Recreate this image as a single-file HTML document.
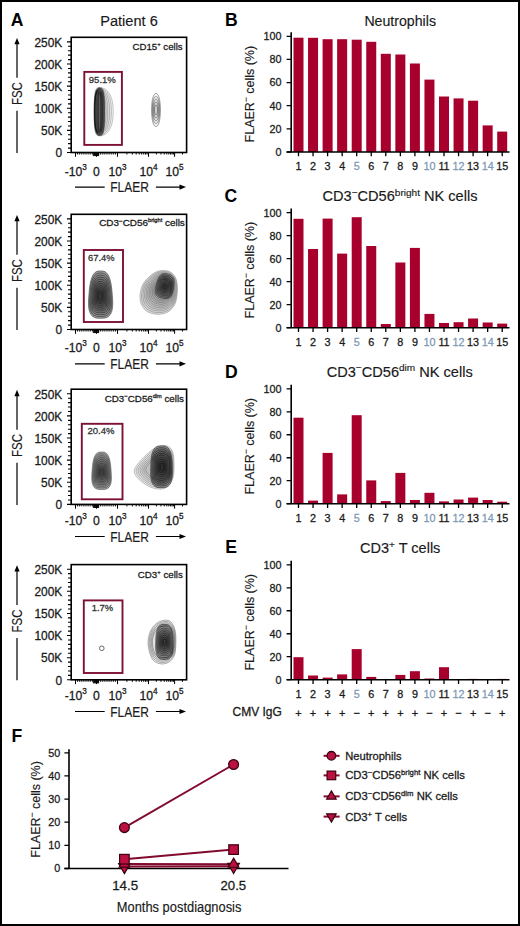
<!DOCTYPE html>
<html><head><meta charset="utf-8"><style>
html,body{margin:0;padding:0;background:#fff;}
svg{display:block;font-family:"Liberation Sans", sans-serif;}
</style></head><body>
<svg width="520" height="926" viewBox="0 0 520 926">
<rect width="520" height="926" fill="#fff"/>
<rect x="1" y="1" width="518" height="924" fill="none" stroke="#000" stroke-width="2"/>
<text x="10.8" y="26.1" font-size="17.6" text-anchor="start" fill="#000" font-weight="bold" >A</text>
<text x="224.9" y="26.1" font-size="17.6" text-anchor="start" fill="#000" font-weight="bold" >B</text>
<text x="224.6" y="202.2" font-size="17.6" text-anchor="start" fill="#000" font-weight="bold" >C</text>
<text x="224.9" y="378.4" font-size="17.6" text-anchor="start" fill="#000" font-weight="bold" >D</text>
<text x="225.2" y="553.1" font-size="17.6" text-anchor="start" fill="#000" font-weight="bold" >E</text>
<text x="11.5" y="742.0" font-size="17.6" text-anchor="start" fill="#000" font-weight="bold" >F</text>
<text x="129" y="25.8" font-size="13.8" text-anchor="middle" fill="#1a1a1a" font-weight="normal" stroke="#1a1a1a" stroke-width="0.15" textLength="57.5" lengthAdjust="spacingAndGlyphs" >Patient 6</text>
<rect x="71.2" y="37.3" width="115.39999999999999" height="115.2" fill="none" stroke="#000" stroke-width="1.6"/>
<path d="M67.0,41.90H71.2 M68.0,46.32H71.2 M68.0,50.75H71.2 M68.0,55.17H71.2 M68.0,59.60H71.2 M67.0,64.02H71.2 M68.0,68.44H71.2 M68.0,72.87H71.2 M68.0,77.29H71.2 M68.0,81.72H71.2 M67.0,86.14H71.2 M68.0,90.56H71.2 M68.0,94.99H71.2 M68.0,99.41H71.2 M68.0,103.84H71.2 M67.0,108.26H71.2 M68.0,112.68H71.2 M68.0,117.11H71.2 M68.0,121.53H71.2 M68.0,125.96H71.2 M67.0,130.38H71.2 M68.0,134.80H71.2 M68.0,139.23H71.2 M68.0,143.65H71.2 M68.0,148.08H71.2 M67.0,152.50H71.2" stroke="#000" stroke-width="1.1"/>
<text x="62.2" y="46.6" font-size="11.9" text-anchor="end" fill="#1a1a1a" font-weight="normal" stroke="#1a1a1a" stroke-width="0.28" >250K</text>
<text x="62.2" y="68.72" font-size="11.9" text-anchor="end" fill="#1a1a1a" font-weight="normal" stroke="#1a1a1a" stroke-width="0.28" >200K</text>
<text x="62.2" y="90.84" font-size="11.9" text-anchor="end" fill="#1a1a1a" font-weight="normal" stroke="#1a1a1a" stroke-width="0.28" >150K</text>
<text x="62.2" y="112.96" font-size="11.9" text-anchor="end" fill="#1a1a1a" font-weight="normal" stroke="#1a1a1a" stroke-width="0.28" >100K</text>
<text x="62.2" y="135.08" font-size="11.9" text-anchor="end" fill="#1a1a1a" font-weight="normal" stroke="#1a1a1a" stroke-width="0.28" >50K</text>
<text x="62.2" y="157.2" font-size="11.9" text-anchor="end" fill="#1a1a1a" font-weight="normal" stroke="#1a1a1a" stroke-width="0.28" >0</text>
<path d="M75.50,152.5V156.8 M96.50,152.5V156.8 M117.50,152.5V156.8 M148.50,152.5V156.8 M174.60,152.5V156.8 M93.35,152.5V156.1 M94.40,152.5V156.1 M95.45,152.5V156.1 M97.55,152.5V156.1 M98.60,152.5V156.1 M77.60,152.5V154.5 M79.70,152.5V154.5 M81.80,152.5V154.5 M83.90,152.5V154.5 M86.00,152.5V154.5 M88.10,152.5V154.5 M90.20,152.5V154.5 M92.30,152.5V154.5 M94.40,152.5V154.5 M98.60,152.5V154.5 M100.70,152.5V154.5 M102.80,152.5V154.5 M104.90,152.5V154.5 M107.00,152.5V154.5 M109.10,152.5V154.5 M111.20,152.5V154.5 M113.30,152.5V154.5 M115.40,152.5V154.5 M126.90,152.5V154.5 M156.36,152.5V154.5 M132.34,152.5V154.5 M160.95,152.5V154.5 M136.20,152.5V154.5 M164.21,152.5V154.5 M139.20,152.5V154.5 M166.74,152.5V154.5 M141.64,152.5V154.5 M168.81,152.5V154.5 M143.71,152.5V154.5 M170.56,152.5V154.5 M145.51,152.5V154.5 M172.07,152.5V154.5 M147.09,152.5V154.5 M173.41,152.5V154.5 M182.46,152.5V154.5" stroke="#000" stroke-width="1"/>
<text x="75.8" y="175.5" font-size="12.2" text-anchor="middle" fill="#1a1a1a" stroke="#1a1a1a" stroke-width="0.28">-10<tspan font-size="8.2" dy="-6">3</tspan></text>
<text x="96.5" y="175.5" font-size="12.2" text-anchor="middle" fill="#1a1a1a" font-weight="normal" stroke="#1a1a1a" stroke-width="0.28" >0</text>
<text x="117.6" y="175.5" font-size="12.2" text-anchor="middle" fill="#1a1a1a" stroke="#1a1a1a" stroke-width="0.28">10<tspan font-size="8.2" dy="-6">3</tspan></text>
<text x="148.5" y="175.5" font-size="12.2" text-anchor="middle" fill="#1a1a1a" stroke="#1a1a1a" stroke-width="0.28">10<tspan font-size="8.2" dy="-6">4</tspan></text>
<text x="174.6" y="175.5" font-size="12.2" text-anchor="middle" fill="#1a1a1a" stroke="#1a1a1a" stroke-width="0.28">10<tspan font-size="8.2" dy="-6">5</tspan></text>
<text x="129.6" y="192.1" font-size="14.8" text-anchor="middle" fill="#1a1a1a" font-weight="normal" stroke="#1a1a1a" stroke-width="0.15" textLength="38.6" lengthAdjust="spacingAndGlyphs" >FLAER</text>
<path d="M75,187.1H104.7 M155.9,187.1H181" stroke="#000" stroke-width="1.2"/>
<path d="M186,187.1 L179.5,184.5 L179.5,189.7 Z" fill="#000"/>
<path d="M17,41.3V77.8 M17,110.8V153.0" stroke="#000" stroke-width="1.2"/>
<path d="M17,37.9 L14.4,44.3 L19.6,44.3 Z" fill="#000"/>
<text transform="translate(21.8,93.6) rotate(-90)" x="0" y="0" font-size="14.8" text-anchor="middle" fill="#1a1a1a" stroke="#1a1a1a" stroke-width="0.15" textLength="23" lengthAdjust="spacingAndGlyphs">FSC</text>
<rect x="71.2" y="214.3" width="115.39999999999999" height="115.19999999999999" fill="none" stroke="#000" stroke-width="1.6"/>
<path d="M67.0,218.90H71.2 M68.0,223.32H71.2 M68.0,227.75H71.2 M68.0,232.17H71.2 M68.0,236.60H71.2 M67.0,241.02H71.2 M68.0,245.44H71.2 M68.0,249.87H71.2 M68.0,254.29H71.2 M68.0,258.72H71.2 M67.0,263.14H71.2 M68.0,267.56H71.2 M68.0,271.99H71.2 M68.0,276.41H71.2 M68.0,280.84H71.2 M67.0,285.26H71.2 M68.0,289.68H71.2 M68.0,294.11H71.2 M68.0,298.53H71.2 M68.0,302.96H71.2 M67.0,307.38H71.2 M68.0,311.80H71.2 M68.0,316.23H71.2 M68.0,320.65H71.2 M68.0,325.08H71.2 M67.0,329.50H71.2" stroke="#000" stroke-width="1.1"/>
<text x="62.2" y="223.6" font-size="11.9" text-anchor="end" fill="#1a1a1a" font-weight="normal" stroke="#1a1a1a" stroke-width="0.28" >250K</text>
<text x="62.2" y="245.72" font-size="11.9" text-anchor="end" fill="#1a1a1a" font-weight="normal" stroke="#1a1a1a" stroke-width="0.28" >200K</text>
<text x="62.2" y="267.84" font-size="11.9" text-anchor="end" fill="#1a1a1a" font-weight="normal" stroke="#1a1a1a" stroke-width="0.28" >150K</text>
<text x="62.2" y="289.96" font-size="11.9" text-anchor="end" fill="#1a1a1a" font-weight="normal" stroke="#1a1a1a" stroke-width="0.28" >100K</text>
<text x="62.2" y="312.08" font-size="11.9" text-anchor="end" fill="#1a1a1a" font-weight="normal" stroke="#1a1a1a" stroke-width="0.28" >50K</text>
<text x="62.2" y="334.2" font-size="11.9" text-anchor="end" fill="#1a1a1a" font-weight="normal" stroke="#1a1a1a" stroke-width="0.28" >0</text>
<path d="M75.50,329.5V333.8 M96.50,329.5V333.8 M117.50,329.5V333.8 M148.50,329.5V333.8 M174.60,329.5V333.8 M93.35,329.5V333.1 M94.40,329.5V333.1 M95.45,329.5V333.1 M97.55,329.5V333.1 M98.60,329.5V333.1 M77.60,329.5V331.5 M79.70,329.5V331.5 M81.80,329.5V331.5 M83.90,329.5V331.5 M86.00,329.5V331.5 M88.10,329.5V331.5 M90.20,329.5V331.5 M92.30,329.5V331.5 M94.40,329.5V331.5 M98.60,329.5V331.5 M100.70,329.5V331.5 M102.80,329.5V331.5 M104.90,329.5V331.5 M107.00,329.5V331.5 M109.10,329.5V331.5 M111.20,329.5V331.5 M113.30,329.5V331.5 M115.40,329.5V331.5 M126.90,329.5V331.5 M156.36,329.5V331.5 M132.34,329.5V331.5 M160.95,329.5V331.5 M136.20,329.5V331.5 M164.21,329.5V331.5 M139.20,329.5V331.5 M166.74,329.5V331.5 M141.64,329.5V331.5 M168.81,329.5V331.5 M143.71,329.5V331.5 M170.56,329.5V331.5 M145.51,329.5V331.5 M172.07,329.5V331.5 M147.09,329.5V331.5 M173.41,329.5V331.5 M182.46,329.5V331.5" stroke="#000" stroke-width="1"/>
<text x="75.8" y="351.5" font-size="12.2" text-anchor="middle" fill="#1a1a1a" stroke="#1a1a1a" stroke-width="0.28">-10<tspan font-size="8.2" dy="-6">3</tspan></text>
<text x="96.5" y="351.5" font-size="12.2" text-anchor="middle" fill="#1a1a1a" font-weight="normal" stroke="#1a1a1a" stroke-width="0.28" >0</text>
<text x="117.6" y="351.5" font-size="12.2" text-anchor="middle" fill="#1a1a1a" stroke="#1a1a1a" stroke-width="0.28">10<tspan font-size="8.2" dy="-6">3</tspan></text>
<text x="148.5" y="351.5" font-size="12.2" text-anchor="middle" fill="#1a1a1a" stroke="#1a1a1a" stroke-width="0.28">10<tspan font-size="8.2" dy="-6">4</tspan></text>
<text x="174.6" y="351.5" font-size="12.2" text-anchor="middle" fill="#1a1a1a" stroke="#1a1a1a" stroke-width="0.28">10<tspan font-size="8.2" dy="-6">5</tspan></text>
<text x="129.6" y="368.5" font-size="14.8" text-anchor="middle" fill="#1a1a1a" font-weight="normal" stroke="#1a1a1a" stroke-width="0.15" textLength="38.6" lengthAdjust="spacingAndGlyphs" >FLAER</text>
<path d="M75,363.8H104.7 M155.9,363.8H181" stroke="#000" stroke-width="1.2"/>
<path d="M186,363.8 L179.5,361.2 L179.5,366.4 Z" fill="#000"/>
<path d="M17,218.3V254.8 M17,287.8V330.0" stroke="#000" stroke-width="1.2"/>
<path d="M17,214.9 L14.4,221.3 L19.6,221.3 Z" fill="#000"/>
<text transform="translate(21.8,270.6) rotate(-90)" x="0" y="0" font-size="14.8" text-anchor="middle" fill="#1a1a1a" stroke="#1a1a1a" stroke-width="0.15" textLength="23" lengthAdjust="spacingAndGlyphs">FSC</text>
<rect x="71.2" y="389.2" width="115.39999999999999" height="115.19999999999999" fill="none" stroke="#000" stroke-width="1.6"/>
<path d="M67.0,393.80H71.2 M68.0,398.22H71.2 M68.0,402.65H71.2 M68.0,407.07H71.2 M68.0,411.50H71.2 M67.0,415.92H71.2 M68.0,420.34H71.2 M68.0,424.77H71.2 M68.0,429.19H71.2 M68.0,433.62H71.2 M67.0,438.04H71.2 M68.0,442.46H71.2 M68.0,446.89H71.2 M68.0,451.31H71.2 M68.0,455.74H71.2 M67.0,460.16H71.2 M68.0,464.58H71.2 M68.0,469.01H71.2 M68.0,473.43H71.2 M68.0,477.86H71.2 M67.0,482.28H71.2 M68.0,486.70H71.2 M68.0,491.13H71.2 M68.0,495.55H71.2 M68.0,499.98H71.2 M67.0,504.40H71.2" stroke="#000" stroke-width="1.1"/>
<text x="62.2" y="398.5" font-size="11.9" text-anchor="end" fill="#1a1a1a" font-weight="normal" stroke="#1a1a1a" stroke-width="0.28" >250K</text>
<text x="62.2" y="420.62" font-size="11.9" text-anchor="end" fill="#1a1a1a" font-weight="normal" stroke="#1a1a1a" stroke-width="0.28" >200K</text>
<text x="62.2" y="442.74" font-size="11.9" text-anchor="end" fill="#1a1a1a" font-weight="normal" stroke="#1a1a1a" stroke-width="0.28" >150K</text>
<text x="62.2" y="464.86" font-size="11.9" text-anchor="end" fill="#1a1a1a" font-weight="normal" stroke="#1a1a1a" stroke-width="0.28" >100K</text>
<text x="62.2" y="486.98" font-size="11.9" text-anchor="end" fill="#1a1a1a" font-weight="normal" stroke="#1a1a1a" stroke-width="0.28" >50K</text>
<text x="62.2" y="509.1" font-size="11.9" text-anchor="end" fill="#1a1a1a" font-weight="normal" stroke="#1a1a1a" stroke-width="0.28" >0</text>
<path d="M75.50,504.4V508.7 M96.50,504.4V508.7 M117.50,504.4V508.7 M148.50,504.4V508.7 M174.60,504.4V508.7 M93.35,504.4V508.0 M94.40,504.4V508.0 M95.45,504.4V508.0 M97.55,504.4V508.0 M98.60,504.4V508.0 M77.60,504.4V506.4 M79.70,504.4V506.4 M81.80,504.4V506.4 M83.90,504.4V506.4 M86.00,504.4V506.4 M88.10,504.4V506.4 M90.20,504.4V506.4 M92.30,504.4V506.4 M94.40,504.4V506.4 M98.60,504.4V506.4 M100.70,504.4V506.4 M102.80,504.4V506.4 M104.90,504.4V506.4 M107.00,504.4V506.4 M109.10,504.4V506.4 M111.20,504.4V506.4 M113.30,504.4V506.4 M115.40,504.4V506.4 M126.90,504.4V506.4 M156.36,504.4V506.4 M132.34,504.4V506.4 M160.95,504.4V506.4 M136.20,504.4V506.4 M164.21,504.4V506.4 M139.20,504.4V506.4 M166.74,504.4V506.4 M141.64,504.4V506.4 M168.81,504.4V506.4 M143.71,504.4V506.4 M170.56,504.4V506.4 M145.51,504.4V506.4 M172.07,504.4V506.4 M147.09,504.4V506.4 M173.41,504.4V506.4 M182.46,504.4V506.4" stroke="#000" stroke-width="1"/>
<text x="75.8" y="525.4" font-size="12.2" text-anchor="middle" fill="#1a1a1a" stroke="#1a1a1a" stroke-width="0.28">-10<tspan font-size="8.2" dy="-6">3</tspan></text>
<text x="96.5" y="525.4" font-size="12.2" text-anchor="middle" fill="#1a1a1a" font-weight="normal" stroke="#1a1a1a" stroke-width="0.28" >0</text>
<text x="117.6" y="525.4" font-size="12.2" text-anchor="middle" fill="#1a1a1a" stroke="#1a1a1a" stroke-width="0.28">10<tspan font-size="8.2" dy="-6">3</tspan></text>
<text x="148.5" y="525.4" font-size="12.2" text-anchor="middle" fill="#1a1a1a" stroke="#1a1a1a" stroke-width="0.28">10<tspan font-size="8.2" dy="-6">4</tspan></text>
<text x="174.6" y="525.4" font-size="12.2" text-anchor="middle" fill="#1a1a1a" stroke="#1a1a1a" stroke-width="0.28">10<tspan font-size="8.2" dy="-6">5</tspan></text>
<text x="129.6" y="541.7" font-size="14.8" text-anchor="middle" fill="#1a1a1a" font-weight="normal" stroke="#1a1a1a" stroke-width="0.15" textLength="38.6" lengthAdjust="spacingAndGlyphs" >FLAER</text>
<path d="M75,536.5H104.7 M155.9,536.5H181" stroke="#000" stroke-width="1.2"/>
<path d="M186,536.5 L179.5,533.9 L179.5,539.1 Z" fill="#000"/>
<path d="M17,393.2V429.7 M17,462.7V504.9" stroke="#000" stroke-width="1.2"/>
<path d="M17,389.8 L14.4,396.2 L19.6,396.2 Z" fill="#000"/>
<text transform="translate(21.8,445.5) rotate(-90)" x="0" y="0" font-size="14.8" text-anchor="middle" fill="#1a1a1a" stroke="#1a1a1a" stroke-width="0.15" textLength="23" lengthAdjust="spacingAndGlyphs">FSC</text>
<rect x="71.2" y="564.6" width="115.39999999999999" height="115.20000000000005" fill="none" stroke="#000" stroke-width="1.6"/>
<path d="M67.0,569.20H71.2 M68.0,573.62H71.2 M68.0,578.05H71.2 M68.0,582.47H71.2 M68.0,586.90H71.2 M67.0,591.32H71.2 M68.0,595.74H71.2 M68.0,600.17H71.2 M68.0,604.59H71.2 M68.0,609.02H71.2 M67.0,613.44H71.2 M68.0,617.86H71.2 M68.0,622.29H71.2 M68.0,626.71H71.2 M68.0,631.14H71.2 M67.0,635.56H71.2 M68.0,639.98H71.2 M68.0,644.41H71.2 M68.0,648.83H71.2 M68.0,653.26H71.2 M67.0,657.68H71.2 M68.0,662.10H71.2 M68.0,666.53H71.2 M68.0,670.95H71.2 M68.0,675.38H71.2 M67.0,679.80H71.2" stroke="#000" stroke-width="1.1"/>
<text x="62.2" y="573.9" font-size="11.9" text-anchor="end" fill="#1a1a1a" font-weight="normal" stroke="#1a1a1a" stroke-width="0.28" >250K</text>
<text x="62.2" y="596.02" font-size="11.9" text-anchor="end" fill="#1a1a1a" font-weight="normal" stroke="#1a1a1a" stroke-width="0.28" >200K</text>
<text x="62.2" y="618.14" font-size="11.9" text-anchor="end" fill="#1a1a1a" font-weight="normal" stroke="#1a1a1a" stroke-width="0.28" >150K</text>
<text x="62.2" y="640.26" font-size="11.9" text-anchor="end" fill="#1a1a1a" font-weight="normal" stroke="#1a1a1a" stroke-width="0.28" >100K</text>
<text x="62.2" y="662.38" font-size="11.9" text-anchor="end" fill="#1a1a1a" font-weight="normal" stroke="#1a1a1a" stroke-width="0.28" >50K</text>
<text x="62.2" y="684.5" font-size="11.9" text-anchor="end" fill="#1a1a1a" font-weight="normal" stroke="#1a1a1a" stroke-width="0.28" >0</text>
<path d="M75.50,679.8000000000001V684.1 M96.50,679.8000000000001V684.1 M117.50,679.8000000000001V684.1 M148.50,679.8000000000001V684.1 M174.60,679.8000000000001V684.1 M93.35,679.8000000000001V683.4 M94.40,679.8000000000001V683.4 M95.45,679.8000000000001V683.4 M97.55,679.8000000000001V683.4 M98.60,679.8000000000001V683.4 M77.60,679.8000000000001V681.8 M79.70,679.8000000000001V681.8 M81.80,679.8000000000001V681.8 M83.90,679.8000000000001V681.8 M86.00,679.8000000000001V681.8 M88.10,679.8000000000001V681.8 M90.20,679.8000000000001V681.8 M92.30,679.8000000000001V681.8 M94.40,679.8000000000001V681.8 M98.60,679.8000000000001V681.8 M100.70,679.8000000000001V681.8 M102.80,679.8000000000001V681.8 M104.90,679.8000000000001V681.8 M107.00,679.8000000000001V681.8 M109.10,679.8000000000001V681.8 M111.20,679.8000000000001V681.8 M113.30,679.8000000000001V681.8 M115.40,679.8000000000001V681.8 M126.90,679.8000000000001V681.8 M156.36,679.8000000000001V681.8 M132.34,679.8000000000001V681.8 M160.95,679.8000000000001V681.8 M136.20,679.8000000000001V681.8 M164.21,679.8000000000001V681.8 M139.20,679.8000000000001V681.8 M166.74,679.8000000000001V681.8 M141.64,679.8000000000001V681.8 M168.81,679.8000000000001V681.8 M143.71,679.8000000000001V681.8 M170.56,679.8000000000001V681.8 M145.51,679.8000000000001V681.8 M172.07,679.8000000000001V681.8 M147.09,679.8000000000001V681.8 M173.41,679.8000000000001V681.8 M182.46,679.8000000000001V681.8" stroke="#000" stroke-width="1"/>
<text x="75.8" y="700.4" font-size="12.2" text-anchor="middle" fill="#1a1a1a" stroke="#1a1a1a" stroke-width="0.28">-10<tspan font-size="8.2" dy="-6">3</tspan></text>
<text x="96.5" y="700.4" font-size="12.2" text-anchor="middle" fill="#1a1a1a" font-weight="normal" stroke="#1a1a1a" stroke-width="0.28" >0</text>
<text x="117.6" y="700.4" font-size="12.2" text-anchor="middle" fill="#1a1a1a" stroke="#1a1a1a" stroke-width="0.28">10<tspan font-size="8.2" dy="-6">3</tspan></text>
<text x="148.5" y="700.4" font-size="12.2" text-anchor="middle" fill="#1a1a1a" stroke="#1a1a1a" stroke-width="0.28">10<tspan font-size="8.2" dy="-6">4</tspan></text>
<text x="174.6" y="700.4" font-size="12.2" text-anchor="middle" fill="#1a1a1a" stroke="#1a1a1a" stroke-width="0.28">10<tspan font-size="8.2" dy="-6">5</tspan></text>
<text x="129.6" y="716.5" font-size="14.8" text-anchor="middle" fill="#1a1a1a" font-weight="normal" stroke="#1a1a1a" stroke-width="0.15" textLength="38.6" lengthAdjust="spacingAndGlyphs" >FLAER</text>
<path d="M75,711.5H104.7 M155.9,711.5H181" stroke="#000" stroke-width="1.2"/>
<path d="M186,711.5 L179.5,708.9 L179.5,714.1 Z" fill="#000"/>
<path d="M17,568.6V605.1 M17,638.1V680.3000000000001" stroke="#000" stroke-width="1.2"/>
<path d="M17,565.2 L14.4,571.6 L19.6,571.6 Z" fill="#000"/>
<text transform="translate(21.8,620.9) rotate(-90)" x="0" y="0" font-size="14.8" text-anchor="middle" fill="#1a1a1a" stroke="#1a1a1a" stroke-width="0.15" textLength="23" lengthAdjust="spacingAndGlyphs">FSC</text>
<text x="182.6" y="49.7" font-size="9.8" text-anchor="end" fill="#1a1a1a" stroke="#1a1a1a" stroke-width="0.28" textLength="50" lengthAdjust="spacingAndGlyphs">CD15<tspan font-size="6" dy="-3.5">+</tspan><tspan dy="3.5"> cells</tspan></text>
<rect x="84.3" y="71.9" width="37.6" height="73" fill="none" stroke="#7d1035" stroke-width="1.9"/>
<text x="102.3" y="83.2" font-size="9.4" text-anchor="middle" fill="#333" font-weight="normal" stroke="#333" stroke-width="0.28" textLength="27" lengthAdjust="spacingAndGlyphs" >95.1%</text>
<g>
<path d="M113.20,111.70 L113.13,115.28 L112.90,118.20 L112.53,120.86 L112.02,123.31 L111.37,125.56 L110.58,127.61 L109.66,129.46 L108.62,131.08 L107.46,132.47 L106.18,133.62 L104.79,134.52 L103.28,135.18 L101.63,135.57 L99.60,135.70 L98.80,135.57 L98.14,135.18 L97.54,134.52 L96.99,133.62 L96.48,132.47 L96.02,131.08 L95.61,129.46 L95.24,127.61 L94.93,125.56 L94.67,123.31 L94.46,120.86 L94.32,118.20 L94.23,115.28 L94.20,111.70 L94.23,108.12 L94.32,105.20 L94.46,102.54 L94.67,100.09 L94.93,97.84 L95.24,95.79 L95.61,93.94 L96.02,92.32 L96.48,90.93 L96.99,89.78 L97.54,88.88 L98.14,88.22 L98.80,87.83 L99.60,87.70 L101.63,87.83 L103.28,88.22 L104.79,88.88 L106.18,89.78 L107.46,90.93 L108.62,92.32 L109.66,93.94 L110.58,95.79 L111.37,97.84 L112.02,100.09 L112.53,102.54 L112.90,105.20 L113.13,108.12 Z" fill="#000" fill-opacity="0.040" stroke="#000" stroke-opacity="0.45" stroke-width="0.5"/>
<path d="M111.42,111.70 L111.35,115.18 L111.15,118.02 L110.82,120.60 L110.36,122.99 L109.78,125.18 L109.07,127.17 L108.25,128.96 L107.32,130.54 L106.28,131.89 L105.14,133.01 L103.89,133.89 L102.54,134.52 L101.06,134.91 L99.25,135.03 L98.52,134.91 L97.92,134.52 L97.37,133.89 L96.87,133.01 L96.41,131.89 L95.99,130.54 L95.61,128.96 L95.28,127.17 L95.00,125.18 L94.76,122.99 L94.57,120.60 L94.44,118.02 L94.36,115.18 L94.33,111.70 L94.36,108.22 L94.44,105.38 L94.57,102.80 L94.76,100.41 L95.00,98.22 L95.28,96.23 L95.61,94.44 L95.99,92.86 L96.41,91.51 L96.87,90.39 L97.37,89.51 L97.92,88.88 L98.52,88.49 L99.25,88.37 L101.06,88.49 L102.54,88.88 L103.89,89.51 L105.14,90.39 L106.28,91.51 L107.32,92.86 L108.25,94.44 L109.07,96.23 L109.78,98.22 L110.36,100.41 L110.82,102.80 L111.15,105.38 L111.35,108.22 Z" fill="#000" fill-opacity="0.040" stroke="#000" stroke-opacity="0.45" stroke-width="0.5"/>
<path d="M109.63,111.70 L109.57,115.08 L109.40,117.84 L109.11,120.35 L108.70,122.67 L108.19,124.79 L107.57,126.73 L106.84,128.47 L106.02,130.00 L105.10,131.31 L104.09,132.40 L103.00,133.26 L101.81,133.87 L100.50,134.24 L98.90,134.37 L98.24,134.24 L97.70,133.87 L97.21,133.26 L96.76,132.40 L96.34,131.31 L95.96,130.00 L95.62,128.47 L95.32,126.73 L95.06,124.79 L94.85,122.67 L94.68,120.35 L94.56,117.84 L94.49,115.08 L94.47,111.70 L94.49,108.32 L94.56,105.56 L94.68,103.05 L94.85,100.73 L95.06,98.61 L95.32,96.67 L95.62,94.93 L95.96,93.40 L96.34,92.09 L96.76,91.00 L97.21,90.14 L97.70,89.53 L98.24,89.16 L98.90,89.03 L100.50,89.16 L101.81,89.53 L103.00,90.14 L104.09,91.00 L105.10,92.09 L106.02,93.40 L106.84,94.93 L107.57,96.67 L108.19,98.61 L108.70,100.73 L109.11,103.05 L109.40,105.56 L109.57,108.32 Z" fill="#000" fill-opacity="0.040" stroke="#000" stroke-opacity="0.45" stroke-width="0.5"/>
<path d="M107.85,111.70 L107.80,114.98 L107.65,117.66 L107.39,120.10 L107.04,122.34 L106.60,124.41 L106.06,126.29 L105.43,127.98 L104.72,129.46 L103.92,130.74 L103.05,131.79 L102.10,132.62 L101.07,133.22 L99.94,133.58 L98.55,133.70 L97.96,133.58 L97.48,133.22 L97.04,132.62 L96.64,131.79 L96.27,130.74 L95.93,129.46 L95.63,127.98 L95.36,126.29 L95.13,124.41 L94.94,122.34 L94.79,120.10 L94.69,117.66 L94.62,114.98 L94.60,111.70 L94.62,108.42 L94.69,105.74 L94.79,103.30 L94.94,101.06 L95.13,98.99 L95.36,97.11 L95.63,95.42 L95.93,93.94 L96.27,92.66 L96.64,91.61 L97.04,90.78 L97.48,90.18 L97.96,89.82 L98.55,89.70 L99.94,89.82 L101.07,90.18 L102.10,90.78 L103.05,91.61 L103.92,92.66 L104.72,93.94 L105.43,95.42 L106.06,97.11 L106.60,98.99 L107.04,101.06 L107.39,103.30 L107.65,105.74 L107.80,108.42 Z" fill="#000" fill-opacity="0.040" stroke="#000" stroke-opacity="0.45" stroke-width="0.5"/>
<path d="M106.07,111.70 L106.02,114.88 L105.89,117.48 L105.68,119.84 L105.38,122.02 L105.01,124.02 L104.55,125.85 L104.02,127.48 L103.42,128.92 L102.74,130.16 L102.01,131.18 L101.20,131.99 L100.33,132.57 L99.37,132.92 L98.20,133.03 L97.68,132.92 L97.26,132.57 L96.88,131.99 L96.52,131.18 L96.20,130.16 L95.90,128.92 L95.64,127.48 L95.40,125.85 L95.20,124.02 L95.03,122.02 L94.90,119.84 L94.81,117.48 L94.75,114.88 L94.73,111.70 L94.75,108.52 L94.81,105.92 L94.90,103.56 L95.03,101.38 L95.20,99.38 L95.40,97.55 L95.64,95.92 L95.90,94.48 L96.20,93.24 L96.52,92.22 L96.88,91.41 L97.26,90.83 L97.68,90.48 L98.20,90.37 L99.37,90.48 L100.33,90.83 L101.20,91.41 L102.01,92.22 L102.74,93.24 L103.42,94.48 L104.02,95.92 L104.55,97.55 L105.01,99.38 L105.38,101.38 L105.68,103.56 L105.89,105.92 L106.02,108.52 Z" fill="#000" fill-opacity="0.040" stroke="#000" stroke-opacity="0.45" stroke-width="0.5"/>
<path d="M104.28,111.70 L104.25,114.78 L104.14,117.29 L103.97,119.59 L103.73,121.70 L103.42,123.64 L103.04,125.40 L102.61,126.99 L102.12,128.38 L101.57,129.58 L100.96,130.58 L100.31,131.35 L99.59,131.92 L98.81,132.25 L97.85,132.37 L97.41,132.25 L97.04,131.92 L96.71,131.35 L96.41,130.58 L96.13,129.58 L95.87,128.38 L95.64,126.99 L95.44,125.40 L95.27,123.64 L95.13,121.70 L95.01,119.59 L94.93,117.29 L94.88,114.78 L94.87,111.70 L94.88,108.62 L94.93,106.11 L95.01,103.81 L95.13,101.70 L95.27,99.76 L95.44,98.00 L95.64,96.41 L95.87,95.02 L96.13,93.82 L96.41,92.82 L96.71,92.05 L97.04,91.48 L97.41,91.15 L97.85,91.03 L98.81,91.15 L99.59,91.48 L100.31,92.05 L100.96,92.82 L101.57,93.82 L102.12,95.02 L102.61,96.41 L103.04,98.00 L103.42,99.76 L103.73,101.70 L103.97,103.81 L104.14,106.11 L104.25,108.62 Z" fill="#000" fill-opacity="0.040" stroke="#000" stroke-opacity="0.45" stroke-width="0.5"/>
<path d="M102.50,111.70 L102.47,114.68 L102.39,117.11 L102.26,119.33 L102.07,121.38 L101.83,123.25 L101.54,124.96 L101.20,126.50 L100.82,127.85 L100.39,129.01 L99.92,129.97 L99.41,130.72 L98.85,131.26 L98.24,131.59 L97.50,131.70 L97.13,131.59 L96.82,131.26 L96.55,130.72 L96.29,129.97 L96.06,129.01 L95.84,127.85 L95.65,126.50 L95.48,124.96 L95.34,123.25 L95.22,121.38 L95.12,119.33 L95.05,117.11 L95.01,114.68 L95.00,111.70 L95.01,108.72 L95.05,106.29 L95.12,104.07 L95.22,102.02 L95.34,100.15 L95.48,98.44 L95.65,96.90 L95.84,95.55 L96.06,94.39 L96.29,93.43 L96.55,92.68 L96.82,92.14 L97.13,91.81 L97.50,91.70 L98.24,91.81 L98.85,92.14 L99.41,92.68 L99.92,93.43 L100.39,94.39 L100.82,95.55 L101.20,96.90 L101.54,98.44 L101.83,100.15 L102.07,102.02 L102.26,104.07 L102.39,106.29 L102.47,108.72 Z" fill="#000" fill-opacity="0.040" stroke="#000" stroke-opacity="0.45" stroke-width="0.5"/>
</g>
<g>
<path d="M104.60,111.70 L104.58,117.81 L104.52,121.08 L104.42,123.71 L104.27,125.94 L104.09,127.88 L103.86,129.56 L103.59,131.03 L103.27,132.28 L102.91,133.33 L102.49,134.19 L102.00,134.85 L101.43,135.32 L100.72,135.61 L99.40,135.70 L98.08,135.61 L97.37,135.32 L96.80,134.85 L96.31,134.19 L95.89,133.33 L95.53,132.28 L95.21,131.03 L94.94,129.56 L94.71,127.88 L94.53,125.94 L94.38,123.71 L94.28,121.08 L94.22,117.81 L94.20,111.70 L94.22,105.59 L94.28,102.32 L94.38,99.69 L94.53,97.46 L94.71,95.52 L94.94,93.84 L95.21,92.37 L95.53,91.12 L95.89,90.07 L96.31,89.21 L96.80,88.55 L97.37,88.08 L98.08,87.79 L99.40,87.70 L100.72,87.79 L101.43,88.08 L102.00,88.55 L102.49,89.21 L102.91,90.07 L103.27,91.12 L103.59,92.37 L103.86,93.84 L104.09,95.52 L104.27,97.46 L104.42,99.69 L104.52,102.32 L104.58,105.59 Z" fill="#000" fill-opacity="0.170" stroke="#000" stroke-opacity="0.6" stroke-width="0.7"/>
<path d="M103.93,111.70 L103.92,117.60 L103.86,120.76 L103.77,123.29 L103.65,125.45 L103.49,127.32 L103.29,128.94 L103.06,130.35 L102.78,131.56 L102.47,132.58 L102.10,133.40 L101.69,134.05 L101.19,134.50 L100.58,134.78 L99.43,134.87 L98.29,134.78 L97.67,134.50 L97.18,134.05 L96.76,133.40 L96.40,132.58 L96.08,131.56 L95.81,130.35 L95.57,128.94 L95.38,127.32 L95.22,125.45 L95.09,123.29 L95.00,120.76 L94.95,117.60 L94.93,111.70 L94.95,105.80 L95.00,102.64 L95.09,100.11 L95.22,97.95 L95.38,96.08 L95.57,94.46 L95.81,93.05 L96.08,91.84 L96.40,90.82 L96.76,90.00 L97.18,89.35 L97.67,88.90 L98.29,88.62 L99.43,88.53 L100.58,88.62 L101.19,88.90 L101.69,89.35 L102.10,90.00 L102.47,90.82 L102.78,91.84 L103.06,93.05 L103.29,94.46 L103.49,96.08 L103.65,97.95 L103.77,100.11 L103.86,102.64 L103.92,105.80 Z" fill="#000" fill-opacity="0.070" stroke="#000" stroke-opacity="0.6" stroke-width="0.7"/>
<path d="M103.27,111.70 L103.25,117.38 L103.21,120.43 L103.13,122.88 L103.03,124.95 L102.89,126.75 L102.72,128.32 L102.53,129.68 L102.30,130.85 L102.03,131.83 L101.72,132.62 L101.37,133.24 L100.95,133.68 L100.43,133.95 L99.47,134.03 L98.50,133.95 L97.98,133.68 L97.57,133.24 L97.21,132.62 L96.91,131.83 L96.64,130.85 L96.41,129.68 L96.21,128.32 L96.04,126.75 L95.91,124.95 L95.80,122.88 L95.73,120.43 L95.68,117.38 L95.67,111.70 L95.68,106.02 L95.73,102.97 L95.80,100.52 L95.91,98.45 L96.04,96.65 L96.21,95.08 L96.41,93.72 L96.64,92.55 L96.91,91.57 L97.21,90.78 L97.57,90.16 L97.98,89.72 L98.50,89.45 L99.47,89.37 L100.43,89.45 L100.95,89.72 L101.37,90.16 L101.72,90.78 L102.03,91.57 L102.30,92.55 L102.53,93.72 L102.72,95.08 L102.89,96.65 L103.03,98.45 L103.13,100.52 L103.21,102.97 L103.25,106.02 Z" fill="#000" fill-opacity="0.070" stroke="#000" stroke-opacity="0.6" stroke-width="0.7"/>
<path d="M102.60,111.70 L102.59,117.17 L102.55,120.11 L102.49,122.46 L102.40,124.46 L102.29,126.19 L102.16,127.70 L102.00,129.01 L101.81,130.13 L101.59,131.08 L101.34,131.84 L101.05,132.44 L100.71,132.86 L100.29,133.12 L99.50,133.20 L98.71,133.12 L98.29,132.86 L97.95,132.44 L97.66,131.84 L97.41,131.08 L97.19,130.13 L97.00,129.01 L96.84,127.70 L96.71,126.19 L96.60,124.46 L96.51,122.46 L96.45,120.11 L96.41,117.17 L96.40,111.70 L96.41,106.23 L96.45,103.29 L96.51,100.94 L96.60,98.94 L96.71,97.21 L96.84,95.70 L97.00,94.39 L97.19,93.27 L97.41,92.32 L97.66,91.56 L97.95,90.96 L98.29,90.54 L98.71,90.28 L99.50,90.20 L100.29,90.28 L100.71,90.54 L101.05,90.96 L101.34,91.56 L101.59,92.32 L101.81,93.27 L102.00,94.39 L102.16,95.70 L102.29,97.21 L102.40,98.94 L102.49,100.94 L102.55,103.29 L102.59,106.23 Z" fill="#000" fill-opacity="0.070" stroke="#000" stroke-opacity="0.6" stroke-width="0.7"/>
<path d="M101.93,111.70 L101.92,116.96 L101.90,119.78 L101.85,122.04 L101.78,123.96 L101.70,125.63 L101.59,127.08 L101.47,128.34 L101.32,129.42 L101.15,130.33 L100.96,131.06 L100.73,131.63 L100.47,132.04 L100.14,132.29 L99.53,132.37 L98.92,132.29 L98.60,132.04 L98.33,131.63 L98.11,131.06 L97.92,130.33 L97.75,129.42 L97.60,128.34 L97.48,127.08 L97.37,125.63 L97.28,123.96 L97.22,122.04 L97.17,119.78 L97.14,116.96 L97.13,111.70 L97.14,106.44 L97.17,103.62 L97.22,101.36 L97.28,99.44 L97.37,97.77 L97.48,96.32 L97.60,95.06 L97.75,93.98 L97.92,93.07 L98.11,92.34 L98.33,91.77 L98.60,91.36 L98.92,91.11 L99.53,91.03 L100.14,91.11 L100.47,91.36 L100.73,91.77 L100.96,92.34 L101.15,93.07 L101.32,93.98 L101.47,95.06 L101.59,96.32 L101.70,97.77 L101.78,99.44 L101.85,101.36 L101.90,103.62 L101.92,106.44 Z" fill="#000" fill-opacity="0.070" stroke="#000" stroke-opacity="0.6" stroke-width="0.7"/>
<path d="M101.27,111.70 L101.26,116.75 L101.24,119.45 L101.21,121.62 L101.16,123.47 L101.10,125.07 L101.02,126.46 L100.94,127.67 L100.83,128.71 L100.71,129.57 L100.58,130.28 L100.42,130.83 L100.23,131.22 L100.00,131.46 L99.57,131.53 L99.13,131.46 L98.90,131.22 L98.72,130.83 L98.56,130.28 L98.42,129.57 L98.30,128.71 L98.20,127.67 L98.11,126.46 L98.03,125.07 L97.97,123.47 L97.93,121.62 L97.89,119.45 L97.87,116.75 L97.87,111.70 L97.87,106.65 L97.89,103.95 L97.93,101.78 L97.97,99.93 L98.03,98.33 L98.11,96.94 L98.20,95.73 L98.30,94.69 L98.42,93.83 L98.56,93.12 L98.72,92.57 L98.90,92.18 L99.13,91.94 L99.57,91.87 L100.00,91.94 L100.23,92.18 L100.42,92.57 L100.58,93.12 L100.71,93.83 L100.83,94.69 L100.94,95.73 L101.02,96.94 L101.10,98.33 L101.16,99.93 L101.21,101.78 L101.24,103.95 L101.26,106.65 Z" fill="#000" fill-opacity="0.070" stroke="#000" stroke-opacity="0.6" stroke-width="0.7"/>
<path d="M100.60,111.70 L100.60,116.54 L100.58,119.13 L100.56,121.21 L100.54,122.97 L100.50,124.51 L100.46,125.84 L100.41,127.00 L100.34,127.99 L100.27,128.82 L100.19,129.50 L100.10,130.03 L99.99,130.40 L99.85,130.63 L99.60,130.70 L99.35,130.63 L99.21,130.40 L99.10,130.03 L99.01,129.50 L98.93,128.82 L98.86,127.99 L98.79,127.00 L98.74,125.84 L98.70,124.51 L98.66,122.97 L98.64,121.21 L98.62,119.13 L98.60,116.54 L98.60,111.70 L98.60,106.86 L98.62,104.27 L98.64,102.19 L98.66,100.43 L98.70,98.89 L98.74,97.56 L98.79,96.40 L98.86,95.41 L98.93,94.58 L99.01,93.90 L99.10,93.37 L99.21,93.00 L99.35,92.77 L99.60,92.70 L99.85,92.77 L99.99,93.00 L100.10,93.37 L100.19,93.90 L100.27,94.58 L100.34,95.41 L100.41,96.40 L100.46,97.56 L100.50,98.89 L100.54,100.43 L100.56,102.19 L100.58,104.27 L100.60,106.86 Z" fill="#000" fill-opacity="0.070" stroke="#000" stroke-opacity="0.6" stroke-width="0.7"/>
</g>
<g>
<path d="M160.40,110.00 L160.37,112.25 L160.30,114.21 L160.17,116.03 L160.00,117.72 L159.78,119.30 L159.52,120.74 L159.21,122.04 L158.86,123.19 L158.48,124.18 L158.06,125.01 L157.61,125.66 L157.12,126.12 L156.60,126.41 L156.00,126.50 L155.40,126.41 L154.88,126.12 L154.39,125.66 L153.94,125.01 L153.52,124.18 L153.14,123.19 L152.79,122.04 L152.48,120.74 L152.22,119.30 L152.00,117.72 L151.83,116.03 L151.70,114.21 L151.63,112.25 L151.60,110.00 L151.63,107.75 L151.70,105.79 L151.83,103.97 L152.00,102.28 L152.22,100.70 L152.48,99.26 L152.79,97.96 L153.14,96.81 L153.52,95.82 L153.94,94.99 L154.39,94.34 L154.88,93.88 L155.40,93.59 L156.00,93.50 L156.60,93.59 L157.12,93.88 L157.61,94.34 L158.06,94.99 L158.48,95.82 L158.86,96.81 L159.21,97.96 L159.52,99.26 L159.78,100.70 L160.00,102.28 L160.17,103.97 L160.30,105.79 L160.37,107.75 Z" fill="#000" fill-opacity="0.040" stroke="#000" stroke-opacity="0.6" stroke-width="0.6"/>
<path d="M159.68,110.00 L159.65,111.86 L159.59,113.48 L159.49,114.98 L159.34,116.38 L159.16,117.68 L158.94,118.87 L158.68,119.94 L158.39,120.89 L158.07,121.71 L157.72,122.39 L157.34,122.93 L156.94,123.31 L156.50,123.55 L156.00,123.62 L155.50,123.55 L155.06,123.31 L154.66,122.93 L154.28,122.39 L153.93,121.71 L153.61,120.89 L153.32,119.94 L153.06,118.87 L152.84,117.68 L152.66,116.38 L152.51,114.98 L152.41,113.48 L152.35,111.86 L152.32,110.00 L152.35,108.14 L152.41,106.52 L152.51,105.02 L152.66,103.62 L152.84,102.32 L153.06,101.13 L153.32,100.06 L153.61,99.11 L153.93,98.29 L154.28,97.61 L154.66,97.07 L155.06,96.69 L155.50,96.45 L156.00,96.38 L156.50,96.45 L156.94,96.69 L157.34,97.07 L157.72,97.61 L158.07,98.29 L158.39,99.11 L158.68,100.06 L158.94,101.13 L159.16,102.32 L159.34,103.62 L159.49,105.02 L159.59,106.52 L159.65,108.14 Z" fill="#000" fill-opacity="0.040" stroke="#000" stroke-opacity="0.6" stroke-width="0.6"/>
<path d="M158.95,110.00 L158.93,111.47 L158.88,112.74 L158.80,113.93 L158.68,115.03 L158.54,116.06 L158.36,117.00 L158.15,117.84 L157.92,118.59 L157.66,119.24 L157.38,119.78 L157.08,120.20 L156.75,120.50 L156.40,120.69 L156.00,120.75 L155.60,120.69 L155.25,120.50 L154.92,120.20 L154.62,119.78 L154.34,119.24 L154.08,118.59 L153.85,117.84 L153.64,117.00 L153.46,116.06 L153.32,115.03 L153.20,113.93 L153.12,112.74 L153.07,111.47 L153.05,110.00 L153.07,108.53 L153.12,107.26 L153.20,106.07 L153.32,104.97 L153.46,103.94 L153.64,103.00 L153.85,102.16 L154.08,101.41 L154.34,100.76 L154.62,100.22 L154.92,99.80 L155.25,99.50 L155.60,99.31 L156.00,99.25 L156.40,99.31 L156.75,99.50 L157.08,99.80 L157.38,100.22 L157.66,100.76 L157.92,101.41 L158.15,102.16 L158.36,103.00 L158.54,103.94 L158.68,104.97 L158.80,106.07 L158.88,107.26 L158.93,108.53 Z" fill="#000" fill-opacity="0.040" stroke="#000" stroke-opacity="0.6" stroke-width="0.6"/>
<path d="M158.22,110.00 L158.21,111.08 L158.17,112.01 L158.11,112.88 L158.02,113.69 L157.91,114.44 L157.78,115.13 L157.62,115.75 L157.45,116.30 L157.25,116.77 L157.04,117.16 L156.81,117.47 L156.57,117.70 L156.30,117.83 L156.00,117.88 L155.70,117.83 L155.43,117.70 L155.19,117.47 L154.96,117.16 L154.75,116.77 L154.55,116.30 L154.38,115.75 L154.22,115.13 L154.09,114.44 L153.98,113.69 L153.89,112.88 L153.83,112.01 L153.79,111.08 L153.78,110.00 L153.79,108.92 L153.83,107.99 L153.89,107.12 L153.98,106.31 L154.09,105.56 L154.22,104.87 L154.38,104.25 L154.55,103.70 L154.75,103.23 L154.96,102.84 L155.19,102.53 L155.43,102.30 L155.70,102.17 L156.00,102.12 L156.30,102.17 L156.57,102.30 L156.81,102.53 L157.04,102.84 L157.25,103.23 L157.45,103.70 L157.62,104.25 L157.78,104.87 L157.91,105.56 L158.02,106.31 L158.11,107.12 L158.17,107.99 L158.21,108.92 Z" fill="#000" fill-opacity="0.040" stroke="#000" stroke-opacity="0.6" stroke-width="0.6"/>
<path d="M157.50,110.00 L157.49,110.68 L157.47,111.28 L157.42,111.83 L157.36,112.34 L157.29,112.82 L157.20,113.25 L157.09,113.65 L156.98,114.00 L156.85,114.30 L156.70,114.55 L156.55,114.74 L156.38,114.89 L156.20,114.97 L156.00,115.00 L155.80,114.97 L155.62,114.89 L155.45,114.74 L155.30,114.55 L155.15,114.30 L155.02,114.00 L154.91,113.65 L154.80,113.25 L154.71,112.82 L154.64,112.34 L154.58,111.83 L154.53,111.28 L154.51,110.68 L154.50,110.00 L154.51,109.32 L154.53,108.72 L154.58,108.17 L154.64,107.66 L154.71,107.18 L154.80,106.75 L154.91,106.35 L155.02,106.00 L155.15,105.70 L155.30,105.45 L155.45,105.26 L155.62,105.11 L155.80,105.03 L156.00,105.00 L156.20,105.03 L156.38,105.11 L156.55,105.26 L156.70,105.45 L156.85,105.70 L156.98,106.00 L157.09,106.35 L157.20,106.75 L157.29,107.18 L157.36,107.66 L157.42,108.17 L157.47,108.72 L157.49,109.32 Z" fill="#000" fill-opacity="0.040" stroke="#000" stroke-opacity="0.6" stroke-width="0.6"/>
</g>
<text x="184.8" y="226.1" font-size="9.6" text-anchor="end" fill="#1a1a1a" stroke="#1a1a1a" stroke-width="0.28" textLength="85.6" lengthAdjust="spacingAndGlyphs">CD3<tspan font-size="6" dy="-3.5">−</tspan><tspan dy="3.5">CD56</tspan><tspan font-size="5.5" dy="-3.8">bright</tspan><tspan dy="3.8"> cells</tspan></text>
<rect x="83.8" y="250" width="39.2" height="72" fill="none" stroke="#7d1035" stroke-width="1.9"/>
<text x="101.3" y="260.6" font-size="9.4" text-anchor="middle" fill="#333" font-weight="normal" stroke="#333" stroke-width="0.28" textLength="26.5" lengthAdjust="spacingAndGlyphs" >67.4%</text>
<g>
<path d="M112.30,294.60 L112.66,299.84 L112.76,303.01 L112.69,305.64 L112.48,307.92 L112.13,309.94 L111.63,311.71 L110.99,313.26 L110.20,314.60 L109.27,315.73 L108.17,316.66 L106.90,317.37 L105.41,317.89 L103.60,318.20 L100.60,318.30 L97.60,318.20 L95.79,317.89 L94.30,317.37 L93.03,316.66 L91.93,315.73 L91.00,314.60 L90.21,313.26 L89.57,311.71 L89.07,309.94 L88.72,307.92 L88.51,305.64 L88.44,303.01 L88.54,299.84 L88.90,294.60 L89.37,289.36 L89.77,286.19 L90.21,283.56 L90.71,281.28 L91.27,279.26 L91.89,277.49 L92.57,275.94 L93.32,274.60 L94.13,273.47 L95.02,272.54 L96.00,271.83 L97.11,271.31 L98.44,271.00 L100.60,270.90 L102.76,271.00 L104.09,271.31 L105.20,271.83 L106.18,272.54 L107.07,273.47 L107.88,274.60 L108.63,275.94 L109.31,277.49 L109.93,279.26 L110.49,281.28 L110.99,283.56 L111.43,286.19 L111.83,289.36 Z" fill="#000" fill-opacity="0.385" stroke="#000" stroke-opacity="0.6" stroke-width="0.7"/>
<path d="M111.23,294.74 L111.56,299.54 L111.65,302.45 L111.59,304.86 L111.39,306.96 L111.07,308.80 L110.62,310.43 L110.04,311.85 L109.32,313.08 L108.47,314.11 L107.47,314.96 L106.31,315.62 L104.95,316.09 L103.31,316.38 L100.57,316.47 L97.83,316.38 L96.19,316.09 L94.83,315.62 L93.67,314.96 L92.67,314.11 L91.82,313.08 L91.10,311.85 L90.52,310.43 L90.07,308.80 L89.75,306.96 L89.55,304.86 L89.49,302.45 L89.58,299.54 L89.91,294.74 L90.34,289.94 L90.70,287.03 L91.11,284.62 L91.56,282.52 L92.07,280.68 L92.63,279.05 L93.26,277.63 L93.93,276.40 L94.68,275.37 L95.49,274.52 L96.38,273.86 L97.39,273.39 L98.60,273.10 L100.57,273.01 L102.54,273.10 L103.75,273.39 L104.76,273.86 L105.65,274.52 L106.46,275.37 L107.21,276.40 L107.88,277.63 L108.51,279.05 L109.07,280.68 L109.58,282.52 L110.03,284.62 L110.44,287.03 L110.80,289.94 Z" fill="#000" fill-opacity="0.085" stroke="#000" stroke-opacity="0.6" stroke-width="0.7"/>
<path d="M110.15,294.88 L110.46,299.24 L110.53,301.89 L110.48,304.08 L110.31,305.99 L110.02,307.67 L109.61,309.15 L109.08,310.44 L108.43,311.56 L107.67,312.50 L106.76,313.27 L105.72,313.87 L104.50,314.30 L103.01,314.55 L100.54,314.64 L98.07,314.55 L96.58,314.30 L95.36,313.87 L94.32,313.27 L93.41,312.50 L92.65,311.56 L92.00,310.44 L91.47,309.15 L91.06,307.67 L90.77,305.99 L90.60,304.08 L90.55,301.89 L90.62,299.24 L90.93,294.88 L91.31,290.52 L91.64,287.87 L92.00,285.68 L92.41,283.77 L92.87,282.09 L93.38,280.61 L93.94,279.32 L94.55,278.20 L95.22,277.26 L95.95,276.49 L96.76,275.89 L97.67,275.46 L98.76,275.21 L100.54,275.12 L102.32,275.21 L103.41,275.46 L104.32,275.89 L105.13,276.49 L105.86,277.26 L106.53,278.20 L107.14,279.32 L107.70,280.61 L108.21,282.09 L108.67,283.77 L109.08,285.68 L109.44,287.87 L109.77,290.52 Z" fill="#000" fill-opacity="0.085" stroke="#000" stroke-opacity="0.6" stroke-width="0.7"/>
<path d="M109.08,295.02 L109.35,298.95 L109.42,301.33 L109.37,303.31 L109.22,305.02 L108.96,306.53 L108.60,307.86 L108.13,309.03 L107.55,310.03 L106.86,310.88 L106.06,311.58 L105.13,312.12 L104.04,312.50 L102.71,312.73 L100.51,312.81 L98.31,312.73 L96.98,312.50 L95.89,312.12 L94.96,311.58 L94.16,310.88 L93.47,310.03 L92.89,309.03 L92.42,307.86 L92.06,306.53 L91.80,305.02 L91.65,303.31 L91.60,301.33 L91.67,298.95 L91.94,295.02 L92.28,291.09 L92.57,288.71 L92.90,286.73 L93.26,285.02 L93.67,283.51 L94.12,282.18 L94.62,281.01 L95.17,280.01 L95.77,279.16 L96.42,278.46 L97.14,277.92 L97.95,277.54 L98.92,277.31 L100.51,277.23 L102.10,277.31 L103.07,277.54 L103.88,277.92 L104.60,278.46 L105.25,279.16 L105.85,280.01 L106.40,281.01 L106.90,282.18 L107.35,283.51 L107.76,285.02 L108.12,286.73 L108.45,288.71 L108.74,291.09 Z" fill="#000" fill-opacity="0.085" stroke="#000" stroke-opacity="0.6" stroke-width="0.7"/>
<path d="M108.01,295.16 L108.25,298.65 L108.31,300.77 L108.27,302.53 L108.13,304.05 L107.90,305.40 L107.58,306.58 L107.17,307.62 L106.67,308.51 L106.06,309.27 L105.36,309.88 L104.54,310.36 L103.58,310.71 L102.41,310.91 L100.48,310.98 L98.55,310.91 L97.38,310.71 L96.42,310.36 L95.60,309.88 L94.90,309.27 L94.29,308.51 L93.79,307.62 L93.38,306.58 L93.06,305.40 L92.83,304.05 L92.69,302.53 L92.65,300.77 L92.71,298.65 L92.95,295.16 L93.25,291.67 L93.50,289.55 L93.79,287.79 L94.11,286.27 L94.47,284.92 L94.87,283.74 L95.31,282.70 L95.79,281.81 L96.31,281.05 L96.89,280.44 L97.52,279.96 L98.24,279.61 L99.09,279.41 L100.48,279.34 L101.87,279.41 L102.72,279.61 L103.44,279.96 L104.07,280.44 L104.65,281.05 L105.17,281.81 L105.65,282.70 L106.09,283.74 L106.49,284.92 L106.85,286.27 L107.17,287.79 L107.46,289.55 L107.71,291.67 Z" fill="#000" fill-opacity="0.085" stroke="#000" stroke-opacity="0.6" stroke-width="0.7"/>
<path d="M106.94,295.30 L107.15,298.36 L107.20,300.21 L107.16,301.75 L107.05,303.09 L106.85,304.26 L106.57,305.30 L106.22,306.21 L105.78,306.99 L105.26,307.65 L104.65,308.19 L103.95,308.61 L103.12,308.91 L102.12,309.09 L100.45,309.15 L98.78,309.09 L97.78,308.91 L96.95,308.61 L96.25,308.19 L95.64,307.65 L95.12,306.99 L94.68,306.21 L94.33,305.30 L94.05,304.26 L93.85,303.09 L93.74,301.75 L93.70,300.21 L93.75,298.36 L93.96,295.30 L94.22,292.24 L94.44,290.39 L94.68,288.85 L94.96,287.51 L95.27,286.34 L95.61,285.30 L95.99,284.39 L96.41,283.61 L96.86,282.95 L97.35,282.41 L97.90,281.99 L98.52,281.69 L99.25,281.51 L100.45,281.45 L101.65,281.51 L102.38,281.69 L103.00,281.99 L103.55,282.41 L104.04,282.95 L104.49,283.61 L104.91,284.39 L105.29,285.30 L105.63,286.34 L105.94,287.51 L106.22,288.85 L106.46,290.39 L106.68,292.24 Z" fill="#000" fill-opacity="0.085" stroke="#000" stroke-opacity="0.6" stroke-width="0.7"/>
<path d="M105.87,295.44 L106.04,298.06 L106.09,299.65 L106.06,300.97 L105.96,302.12 L105.79,303.13 L105.56,304.02 L105.26,304.79 L104.90,305.47 L104.46,306.03 L103.95,306.50 L103.36,306.86 L102.66,307.11 L101.82,307.27 L100.42,307.32 L99.02,307.27 L98.18,307.11 L97.48,306.86 L96.89,306.50 L96.38,306.03 L95.94,305.47 L95.58,304.79 L95.28,304.02 L95.05,303.13 L94.88,302.12 L94.78,300.97 L94.75,299.65 L94.80,298.06 L94.97,295.44 L95.19,292.82 L95.37,291.23 L95.58,289.91 L95.81,288.76 L96.07,287.75 L96.36,286.86 L96.68,286.09 L97.02,285.41 L97.40,284.85 L97.82,284.38 L98.28,284.02 L98.80,283.77 L99.41,283.61 L100.42,283.56 L101.43,283.61 L102.04,283.77 L102.56,284.02 L103.02,284.38 L103.44,284.85 L103.82,285.41 L104.16,286.09 L104.48,286.86 L104.77,287.75 L105.03,288.76 L105.26,289.91 L105.47,291.23 L105.65,292.82 Z" fill="#000" fill-opacity="0.085" stroke="#000" stroke-opacity="0.6" stroke-width="0.7"/>
<path d="M104.80,295.58 L104.94,297.77 L104.98,299.10 L104.95,300.20 L104.87,301.15 L104.74,301.99 L104.55,302.73 L104.31,303.38 L104.01,303.94 L103.66,304.42 L103.25,304.80 L102.77,305.10 L102.21,305.32 L101.52,305.45 L100.39,305.49 L99.26,305.45 L98.57,305.32 L98.01,305.10 L97.53,304.80 L97.12,304.42 L96.77,303.94 L96.47,303.38 L96.23,302.73 L96.04,301.99 L95.91,301.15 L95.83,300.20 L95.80,299.10 L95.84,297.77 L95.98,295.58 L96.16,293.39 L96.31,292.06 L96.47,290.96 L96.66,290.01 L96.87,289.17 L97.10,288.43 L97.36,287.78 L97.64,287.22 L97.95,286.74 L98.29,286.36 L98.66,286.06 L99.08,285.84 L99.57,285.71 L100.39,285.67 L101.21,285.71 L101.70,285.84 L102.12,286.06 L102.49,286.36 L102.83,286.74 L103.14,287.22 L103.42,287.78 L103.68,288.43 L103.91,289.17 L104.12,290.01 L104.31,290.96 L104.47,292.06 L104.62,293.39 Z" fill="#000" fill-opacity="0.085" stroke="#000" stroke-opacity="0.6" stroke-width="0.7"/>
<path d="M103.73,295.72 L103.84,297.47 L103.86,298.54 L103.85,299.42 L103.78,300.18 L103.68,300.86 L103.54,301.45 L103.35,301.97 L103.13,302.42 L102.86,302.80 L102.54,303.11 L102.18,303.35 L101.75,303.52 L101.23,303.63 L100.36,303.66 L99.49,303.63 L98.97,303.52 L98.54,303.35 L98.18,303.11 L97.86,302.80 L97.59,302.42 L97.37,301.97 L97.18,301.45 L97.04,300.86 L96.94,300.18 L96.87,299.42 L96.86,298.54 L96.88,297.47 L96.99,295.72 L97.12,293.97 L97.24,292.90 L97.37,292.02 L97.51,291.26 L97.67,290.58 L97.85,289.99 L98.05,289.47 L98.26,289.02 L98.50,288.64 L98.75,288.33 L99.04,288.09 L99.36,287.92 L99.74,287.81 L100.36,287.78 L100.98,287.81 L101.36,287.92 L101.68,288.09 L101.97,288.33 L102.22,288.64 L102.46,289.02 L102.67,289.47 L102.87,289.99 L103.05,290.58 L103.21,291.26 L103.35,292.02 L103.48,292.90 L103.60,293.97 Z" fill="#000" fill-opacity="0.085" stroke="#000" stroke-opacity="0.6" stroke-width="0.7"/>
<path d="M102.66,295.86 L102.73,297.18 L102.75,297.98 L102.74,298.64 L102.70,299.22 L102.63,299.72 L102.53,300.17 L102.40,300.56 L102.24,300.90 L102.06,301.18 L101.84,301.42 L101.59,301.60 L101.29,301.73 L100.93,301.80 L100.33,301.83 L99.73,301.80 L99.37,301.73 L99.07,301.60 L98.82,301.42 L98.60,301.18 L98.42,300.90 L98.26,300.56 L98.13,300.17 L98.03,299.72 L97.96,299.22 L97.92,298.64 L97.91,297.98 L97.93,297.18 L98.00,295.86 L98.09,294.54 L98.17,293.74 L98.26,293.08 L98.36,292.50 L98.47,292.00 L98.59,291.55 L98.73,291.16 L98.88,290.82 L99.04,290.54 L99.22,290.30 L99.41,290.12 L99.64,289.99 L99.90,289.92 L100.33,289.89 L100.76,289.92 L101.02,289.99 L101.25,290.12 L101.44,290.30 L101.62,290.54 L101.78,290.82 L101.93,291.16 L102.07,291.55 L102.19,292.00 L102.30,292.50 L102.40,293.08 L102.49,293.74 L102.57,294.54 Z" fill="#000" fill-opacity="0.085" stroke="#000" stroke-opacity="0.6" stroke-width="0.7"/>
<path d="M101.59,296.00 L101.63,296.88 L101.64,297.42 L101.63,297.86 L101.61,298.25 L101.57,298.59 L101.52,298.89 L101.45,299.15 L101.36,299.38 L101.26,299.57 L101.14,299.72 L100.99,299.84 L100.83,299.93 L100.63,299.98 L100.30,300.00 L99.97,299.98 L99.77,299.93 L99.61,299.84 L99.46,299.72 L99.34,299.57 L99.24,299.38 L99.15,299.15 L99.08,298.89 L99.03,298.59 L98.99,298.25 L98.97,297.86 L98.96,297.42 L98.97,296.88 L99.01,296.00 L99.06,295.12 L99.11,294.58 L99.15,294.14 L99.21,293.75 L99.27,293.41 L99.34,293.11 L99.41,292.85 L99.50,292.62 L99.59,292.43 L99.68,292.28 L99.79,292.16 L99.92,292.07 L100.06,292.02 L100.30,292.00 L100.54,292.02 L100.68,292.07 L100.81,292.16 L100.92,292.28 L101.01,292.43 L101.10,292.62 L101.19,292.85 L101.26,293.11 L101.33,293.41 L101.39,293.75 L101.45,294.14 L101.49,294.58 L101.54,295.12 Z" fill="#000" fill-opacity="0.085" stroke="#000" stroke-opacity="0.6" stroke-width="0.7"/>
</g>
<g>
<path d="M165.00,270.50 C167.50,270.75 170.08,271.42 172.00,273.00 C173.92,274.58 175.60,276.83 176.50,280.00 C177.40,283.17 177.65,288.00 177.40,292.00 C177.15,296.00 176.57,300.67 175.00,304.00 C173.43,307.33 170.83,310.28 168.00,312.00 C165.17,313.72 161.33,314.30 158.00,314.30 C154.67,314.30 150.75,313.55 148.00,312.00 C145.25,310.45 142.83,307.83 141.50,305.00 C140.17,302.17 139.75,298.50 140.00,295.00 C140.25,291.50 141.33,287.17 143.00,284.00 C144.67,280.83 147.67,278.08 150.00,276.00 C152.33,273.92 154.50,272.42 157.00,271.50 C159.50,270.58 162.50,270.25 165.00,270.50 Z" fill="#000" fill-opacity="0.130" stroke="#000" stroke-opacity="0.45" stroke-width="0.5"/>
<path d="M165.00,271.51 C167.35,271.74 169.77,272.37 171.57,273.86 C173.37,275.34 174.95,277.45 175.80,280.43 C176.64,283.40 176.88,287.94 176.64,291.69 C176.41,295.45 175.86,299.83 174.39,302.96 C172.92,306.09 170.48,308.86 167.82,310.47 C165.16,312.08 161.56,312.63 158.43,312.63 C155.30,312.63 151.62,311.93 149.04,310.47 C146.46,309.02 144.19,306.56 142.94,303.90 C141.68,301.24 141.29,297.80 141.53,294.51 C141.76,291.23 142.78,287.16 144.34,284.18 C145.91,281.21 148.73,278.63 150.92,276.67 C153.11,274.72 155.14,273.31 157.49,272.45 C159.84,271.59 162.65,271.27 165.00,271.51 Z" fill="#000" fill-opacity="0.030" stroke="#000" stroke-opacity="0.45" stroke-width="0.5"/>
<path d="M165.00,272.52 C167.19,272.74 169.46,273.32 171.14,274.71 C172.83,276.10 174.30,278.08 175.09,280.86 C175.88,283.64 176.10,287.88 175.88,291.39 C175.67,294.90 175.15,299.00 173.78,301.92 C172.40,304.85 170.12,307.44 167.63,308.94 C165.15,310.45 161.78,310.96 158.86,310.96 C155.93,310.96 152.49,310.31 150.08,308.94 C147.66,307.58 145.54,305.29 144.37,302.80 C143.20,300.31 142.84,297.09 143.06,294.02 C143.27,290.95 144.23,287.15 145.69,284.37 C147.15,281.59 149.79,279.17 151.83,277.34 C153.88,275.52 155.78,274.20 157.98,273.39 C160.17,272.59 162.81,272.30 165.00,272.52 Z" fill="#000" fill-opacity="0.030" stroke="#000" stroke-opacity="0.45" stroke-width="0.5"/>
<path d="M165.00,273.52 C167.04,273.73 169.15,274.27 170.72,275.57 C172.28,276.86 173.66,278.70 174.39,281.28 C175.13,283.87 175.33,287.82 175.13,291.08 C174.92,294.35 174.45,298.16 173.17,300.88 C171.89,303.61 169.76,306.01 167.45,307.42 C165.14,308.82 162.01,309.30 159.28,309.30 C156.56,309.30 153.36,308.68 151.12,307.42 C148.87,306.15 146.90,304.01 145.81,301.70 C144.72,299.39 144.38,296.39 144.58,293.53 C144.79,290.68 145.67,287.14 147.03,284.55 C148.39,281.96 150.84,279.72 152.75,278.02 C154.66,276.32 156.43,275.09 158.47,274.34 C160.51,273.59 162.96,273.32 165.00,273.52 Z" fill="#000" fill-opacity="0.030" stroke="#000" stroke-opacity="0.45" stroke-width="0.5"/>
<path d="M165.00,274.53 C166.89,274.72 168.84,275.23 170.29,276.42 C171.74,277.62 173.01,279.32 173.69,281.71 C174.37,284.10 174.56,287.76 174.37,290.78 C174.18,293.80 173.74,297.33 172.56,299.84 C171.37,302.36 169.41,304.59 167.27,305.89 C165.13,307.19 162.23,307.63 159.71,307.63 C157.19,307.63 154.23,307.06 152.16,305.89 C150.08,304.72 148.25,302.74 147.24,300.60 C146.24,298.46 145.92,295.69 146.11,293.04 C146.30,290.40 147.12,287.13 148.38,284.73 C149.64,282.34 151.90,280.26 153.67,278.69 C155.43,277.11 157.07,275.98 158.96,275.29 C160.84,274.60 163.11,274.34 165.00,274.53 Z" fill="#000" fill-opacity="0.030" stroke="#000" stroke-opacity="0.45" stroke-width="0.5"/>
<path d="M165.00,275.54 C166.74,275.72 168.53,276.18 169.86,277.28 C171.19,278.38 172.36,279.94 172.99,282.14 C173.61,284.34 173.78,287.69 173.61,290.47 C173.44,293.25 173.03,296.49 171.94,298.81 C170.86,301.12 169.05,303.17 167.08,304.36 C165.12,305.55 162.45,305.96 160.14,305.96 C157.82,305.96 155.10,305.44 153.19,304.36 C151.28,303.28 149.61,301.47 148.68,299.50 C147.75,297.53 147.47,294.99 147.64,292.56 C147.81,290.12 148.56,287.12 149.72,284.92 C150.88,282.72 152.96,280.81 154.58,279.36 C156.20,277.91 157.71,276.87 159.44,276.24 C161.18,275.60 163.26,275.37 165.00,275.54 Z" fill="#000" fill-opacity="0.030" stroke="#000" stroke-opacity="0.45" stroke-width="0.5"/>
<path d="M165.00,276.55 C166.58,276.71 168.22,277.13 169.43,278.13 C170.65,279.14 171.71,280.56 172.28,282.57 C172.85,284.57 173.01,287.63 172.85,290.17 C172.69,292.70 172.33,295.66 171.33,297.77 C170.34,299.88 168.69,301.75 166.90,302.83 C165.11,303.92 162.68,304.29 160.57,304.29 C158.46,304.29 155.98,303.81 154.23,302.83 C152.49,301.85 150.96,300.19 150.12,298.40 C149.27,296.61 149.01,294.28 149.17,292.07 C149.32,289.85 150.01,287.11 151.07,285.10 C152.12,283.09 154.02,281.35 155.50,280.03 C156.98,278.71 158.35,277.76 159.93,277.18 C161.52,276.60 163.42,276.39 165.00,276.55 Z" fill="#000" fill-opacity="0.030" stroke="#000" stroke-opacity="0.45" stroke-width="0.5"/>
<path d="M165.00,277.56 C166.43,277.70 167.91,278.08 169.01,278.99 C170.10,279.89 171.07,281.18 171.58,282.99 C172.10,284.81 172.24,287.57 172.10,289.86 C171.95,292.15 171.62,294.82 170.72,296.73 C169.83,298.64 168.34,300.32 166.72,301.31 C165.10,302.29 162.90,302.62 160.99,302.62 C159.09,302.62 156.85,302.19 155.27,301.31 C153.70,300.42 152.32,298.92 151.55,297.30 C150.79,295.68 150.55,293.58 150.69,291.58 C150.84,289.57 151.46,287.10 152.41,285.28 C153.36,283.47 155.08,281.90 156.42,280.71 C157.75,279.51 158.99,278.66 160.42,278.13 C161.85,277.61 163.57,277.42 165.00,277.56 Z" fill="#000" fill-opacity="0.030" stroke="#000" stroke-opacity="0.45" stroke-width="0.5"/>
<path d="M165.00,278.57 C166.28,278.69 167.60,279.04 168.58,279.84 C169.56,280.65 170.42,281.80 170.88,283.42 C171.34,285.04 171.47,287.51 171.34,289.56 C171.21,291.60 170.91,293.99 170.11,295.69 C169.31,297.39 167.98,298.90 166.53,299.78 C165.09,300.66 163.13,300.95 161.42,300.95 C159.72,300.95 157.72,300.57 156.31,299.78 C154.91,298.99 153.67,297.65 152.99,296.20 C152.31,294.75 152.09,292.88 152.22,291.09 C152.35,289.30 152.90,287.09 153.76,285.47 C154.61,283.85 156.14,282.44 157.33,281.38 C158.53,280.31 159.63,279.55 160.91,279.08 C162.19,278.61 163.72,278.44 165.00,278.57 Z" fill="#000" fill-opacity="0.030" stroke="#000" stroke-opacity="0.45" stroke-width="0.5"/>
<path d="M165.00,279.57 C166.12,279.69 167.29,279.99 168.15,280.70 C169.01,281.41 169.77,282.43 170.18,283.85 C170.58,285.28 170.69,287.45 170.58,289.25 C170.47,291.05 170.21,293.15 169.50,294.65 C168.79,296.15 167.62,297.48 166.35,298.25 C165.07,299.02 163.35,299.29 161.85,299.29 C160.35,299.29 158.59,298.95 157.35,298.25 C156.11,297.55 155.03,296.38 154.43,295.10 C153.83,293.83 153.64,292.18 153.75,290.60 C153.86,289.03 154.35,287.07 155.10,285.65 C155.85,284.22 157.20,282.99 158.25,282.05 C159.30,281.11 160.28,280.44 161.40,280.02 C162.53,279.61 163.88,279.46 165.00,279.57 Z" fill="#000" fill-opacity="0.030" stroke="#000" stroke-opacity="0.45" stroke-width="0.5"/>
</g>
<g>
<path d="M173.69,287.85 L173.21,290.71 L172.84,292.36 L172.44,293.69 L171.99,294.81 L171.48,295.77 L170.91,296.58 L170.27,297.26 L169.57,297.82 L168.79,298.24 L167.93,298.54 L166.97,298.72 L165.89,298.75 L164.59,298.64 L162.40,298.23 L160.23,297.71 L159.00,297.29 L158.03,296.81 L157.22,296.27 L156.56,295.64 L156.02,294.94 L155.60,294.14 L155.30,293.26 L155.11,292.29 L155.03,291.21 L155.08,290.00 L155.25,288.62 L155.58,286.97 L156.31,284.15 L157.12,281.36 L157.67,279.75 L158.21,278.45 L158.76,277.35 L159.35,276.41 L159.96,275.60 L160.61,274.92 L161.30,274.37 L162.04,273.93 L162.82,273.62 L163.67,273.42 L164.62,273.35 L165.73,273.43 L167.60,273.77 L169.44,274.22 L170.49,274.60 L171.33,275.05 L172.03,275.57 L172.62,276.18 L173.11,276.88 L173.51,277.67 L173.83,278.55 L174.07,279.54 L174.22,280.63 L174.28,281.87 L174.24,283.27 L174.09,284.96 Z" fill="#000" fill-opacity="0.250" stroke="#000" stroke-opacity="0.55" stroke-width="0.65"/>
<path d="M172.60,287.69 L172.18,290.21 L171.86,291.66 L171.50,292.83 L171.11,293.82 L170.66,294.66 L170.16,295.38 L169.61,295.98 L168.99,296.46 L168.31,296.84 L167.55,297.10 L166.71,297.26 L165.76,297.29 L164.63,297.19 L162.71,296.83 L160.81,296.38 L159.74,296.01 L158.88,295.59 L158.18,295.11 L157.60,294.56 L157.13,293.94 L156.76,293.25 L156.50,292.47 L156.33,291.61 L156.27,290.66 L156.31,289.60 L156.47,288.39 L156.76,286.93 L157.40,284.46 L158.11,281.99 L158.59,280.58 L159.06,279.44 L159.55,278.47 L160.06,277.64 L160.60,276.93 L161.17,276.33 L161.78,275.84 L162.42,275.46 L163.11,275.18 L163.85,275.01 L164.68,274.95 L165.65,275.01 L167.29,275.31 L168.90,275.70 L169.82,276.04 L170.55,276.43 L171.16,276.89 L171.67,277.43 L172.11,278.04 L172.46,278.73 L172.74,279.51 L172.94,280.38 L173.07,281.34 L173.12,282.42 L173.09,283.66 L172.96,285.15 Z" fill="#000" fill-opacity="0.100" stroke="#000" stroke-opacity="0.55" stroke-width="0.65"/>
<path d="M171.51,287.53 L171.15,289.71 L170.87,290.96 L170.57,291.97 L170.23,292.82 L169.84,293.55 L169.41,294.17 L168.94,294.69 L168.41,295.11 L167.82,295.43 L167.17,295.66 L166.45,295.80 L165.64,295.83 L164.67,295.74 L163.02,295.44 L161.40,295.05 L160.48,294.73 L159.74,294.37 L159.14,293.96 L158.64,293.48 L158.24,292.95 L157.93,292.35 L157.70,291.68 L157.56,290.94 L157.51,290.12 L157.54,289.20 L157.68,288.15 L157.93,286.90 L158.49,284.76 L159.09,282.63 L159.51,281.41 L159.92,280.42 L160.34,279.59 L160.78,278.87 L161.24,278.26 L161.73,277.74 L162.25,277.32 L162.80,276.98 L163.39,276.74 L164.03,276.59 L164.74,276.54 L165.58,276.59 L166.98,276.85 L168.36,277.19 L169.14,277.47 L169.77,277.81 L170.29,278.21 L170.73,278.67 L171.10,279.20 L171.41,279.80 L171.64,280.47 L171.82,281.21 L171.93,282.05 L171.97,282.98 L171.94,284.05 L171.82,285.34 Z" fill="#000" fill-opacity="0.100" stroke="#000" stroke-opacity="0.55" stroke-width="0.65"/>
<path d="M170.43,287.37 L170.12,289.20 L169.89,290.26 L169.63,291.11 L169.35,291.83 L169.03,292.44 L168.67,292.96 L168.27,293.40 L167.82,293.76 L167.33,294.03 L166.80,294.23 L166.20,294.34 L165.52,294.37 L164.71,294.30 L163.34,294.04 L161.98,293.72 L161.21,293.45 L160.60,293.15 L160.10,292.80 L159.69,292.41 L159.35,291.96 L159.09,291.45 L158.91,290.89 L158.79,290.26 L158.75,289.57 L158.78,288.80 L158.89,287.92 L159.11,286.86 L159.57,285.06 L160.08,283.27 L160.43,282.24 L160.77,281.41 L161.12,280.70 L161.49,280.10 L161.88,279.58 L162.29,279.15 L162.72,278.79 L163.18,278.51 L163.68,278.30 L164.21,278.18 L164.80,278.13 L165.50,278.18 L166.66,278.39 L167.82,278.67 L168.47,278.91 L168.99,279.19 L169.43,279.53 L169.79,279.91 L170.10,280.36 L170.35,280.86 L170.55,281.42 L170.69,282.05 L170.78,282.76 L170.82,283.54 L170.79,284.44 L170.69,285.52 Z" fill="#000" fill-opacity="0.100" stroke="#000" stroke-opacity="0.55" stroke-width="0.65"/>
<path d="M169.34,287.21 L169.09,288.70 L168.90,289.56 L168.70,290.25 L168.47,290.83 L168.21,291.33 L167.92,291.76 L167.60,292.11 L167.24,292.40 L166.85,292.63 L166.42,292.79 L165.94,292.88 L165.39,292.90 L164.74,292.85 L163.65,292.64 L162.56,292.39 L161.95,292.17 L161.46,291.93 L161.06,291.65 L160.73,291.33 L160.47,290.96 L160.26,290.55 L160.11,290.10 L160.02,289.59 L159.99,289.03 L160.01,288.40 L160.11,287.69 L160.28,286.83 L160.66,285.36 L161.07,283.91 L161.35,283.07 L161.63,282.39 L161.91,281.82 L162.21,281.33 L162.52,280.91 L162.85,280.55 L163.20,280.26 L163.56,280.03 L163.96,279.87 L164.39,279.76 L164.86,279.72 L165.42,279.76 L166.35,279.93 L167.27,280.15 L167.80,280.35 L168.21,280.57 L168.56,280.84 L168.85,281.16 L169.10,281.52 L169.30,281.92 L169.45,282.38 L169.57,282.89 L169.64,283.46 L169.66,284.10 L169.64,284.83 L169.56,285.71 Z" fill="#000" fill-opacity="0.100" stroke="#000" stroke-opacity="0.55" stroke-width="0.65"/>
<path d="M168.26,287.05 L168.06,288.20 L167.92,288.85 L167.76,289.39 L167.58,289.84 L167.39,290.22 L167.17,290.55 L166.93,290.82 L166.66,291.05 L166.36,291.22 L166.04,291.35 L165.68,291.42 L165.27,291.44 L164.78,291.40 L163.96,291.25 L163.15,291.05 L162.69,290.89 L162.32,290.71 L162.02,290.49 L161.78,290.25 L161.58,289.97 L161.42,289.65 L161.31,289.30 L161.25,288.92 L161.22,288.48 L161.25,288.00 L161.32,287.45 L161.45,286.79 L161.74,285.66 L162.06,284.54 L162.27,283.90 L162.48,283.38 L162.70,282.94 L162.92,282.56 L163.16,282.23 L163.41,281.96 L163.67,281.74 L163.95,281.56 L164.24,281.43 L164.57,281.35 L164.92,281.31 L165.34,281.34 L166.04,281.47 L166.73,281.63 L167.12,281.78 L167.44,281.96 L167.70,282.16 L167.91,282.40 L168.10,282.68 L168.24,282.99 L168.36,283.34 L168.44,283.73 L168.49,284.17 L168.51,284.66 L168.49,285.22 L168.42,285.90 Z" fill="#000" fill-opacity="0.100" stroke="#000" stroke-opacity="0.55" stroke-width="0.65"/>
<path d="M167.17,286.89 L167.03,287.69 L166.93,288.15 L166.82,288.53 L166.70,288.84 L166.57,289.11 L166.42,289.34 L166.26,289.54 L166.08,289.69 L165.88,289.82 L165.66,289.91 L165.42,289.96 L165.15,289.98 L164.82,289.95 L164.27,289.85 L163.73,289.72 L163.42,289.61 L163.18,289.49 L162.98,289.34 L162.82,289.17 L162.69,288.97 L162.59,288.76 L162.52,288.51 L162.48,288.24 L162.46,287.94 L162.48,287.60 L162.53,287.22 L162.63,286.76 L162.83,285.97 L163.05,285.18 L163.20,284.73 L163.34,284.37 L163.49,284.06 L163.64,283.79 L163.80,283.56 L163.96,283.37 L164.14,283.21 L164.33,283.08 L164.53,282.99 L164.74,282.93 L164.98,282.91 L165.26,282.92 L165.73,283.01 L166.19,283.12 L166.45,283.22 L166.66,283.34 L166.83,283.48 L166.97,283.65 L167.09,283.84 L167.19,284.05 L167.26,284.30 L167.32,284.57 L167.35,284.88 L167.36,285.22 L167.34,285.61 L167.29,286.08 Z" fill="#000" fill-opacity="0.100" stroke="#000" stroke-opacity="0.55" stroke-width="0.65"/>
<path d="M166.09,286.73 L166.00,287.19 L165.95,287.45 L165.89,287.67 L165.82,287.85 L165.75,288.00 L165.67,288.14 L165.59,288.25 L165.49,288.34 L165.39,288.41 L165.28,288.47 L165.16,288.50 L165.02,288.51 L164.86,288.51 L164.58,288.46 L164.31,288.39 L164.16,288.33 L164.04,288.26 L163.94,288.18 L163.86,288.09 L163.80,287.98 L163.75,287.86 L163.72,287.72 L163.70,287.57 L163.70,287.40 L163.72,287.20 L163.75,286.98 L163.80,286.72 L163.91,286.27 L164.04,285.82 L164.12,285.56 L164.19,285.35 L164.27,285.17 L164.35,285.02 L164.44,284.89 L164.52,284.78 L164.62,284.68 L164.71,284.61 L164.81,284.55 L164.92,284.52 L165.04,284.50 L165.18,284.50 L165.42,284.54 L165.65,284.60 L165.78,284.65 L165.88,284.72 L165.96,284.80 L166.03,284.89 L166.09,285.00 L166.14,285.12 L166.17,285.26 L166.19,285.41 L166.20,285.58 L166.20,285.78 L166.19,286.00 L166.16,286.27 Z" fill="#000" fill-opacity="0.100" stroke="#000" stroke-opacity="0.55" stroke-width="0.65"/>
</g>
<text x="184" y="401.6" font-size="9.6" text-anchor="end" fill="#1a1a1a" stroke="#1a1a1a" stroke-width="0.28" textLength="79.3" lengthAdjust="spacingAndGlyphs">CD3<tspan font-size="6" dy="-3.5">−</tspan><tspan dy="3.5">CD56</tspan><tspan font-size="5.5" dy="-3.8">dim</tspan><tspan dy="3.8"> cells</tspan></text>
<rect x="81.8" y="423.8" width="40.7" height="75.5" fill="none" stroke="#7d1035" stroke-width="1.9"/>
<text x="101" y="434.3" font-size="9.4" text-anchor="middle" fill="#333" font-weight="normal" stroke="#333" stroke-width="0.28" textLength="27" lengthAdjust="spacingAndGlyphs" >20.4%</text>
<g>
<path d="M111.14,470.80 L111.41,475.17 L111.47,477.70 L111.40,479.78 L111.23,481.57 L110.94,483.14 L110.54,484.52 L110.03,485.72 L109.40,486.76 L108.66,487.63 L107.79,488.34 L106.78,488.89 L105.59,489.28 L104.13,489.52 L101.60,489.60 L99.07,489.52 L97.61,489.28 L96.42,488.89 L95.41,488.34 L94.54,487.63 L93.80,486.76 L93.17,485.72 L92.66,484.52 L92.26,483.14 L91.97,481.57 L91.80,479.78 L91.73,477.70 L91.79,475.17 L92.06,470.80 L92.42,466.43 L92.71,463.90 L93.05,461.82 L93.43,460.03 L93.86,458.46 L94.35,457.08 L94.89,455.88 L95.48,454.84 L96.14,453.97 L96.86,453.26 L97.67,452.71 L98.59,452.32 L99.70,452.08 L101.60,452.00 L103.50,452.08 L104.61,452.32 L105.53,452.71 L106.34,453.26 L107.06,453.97 L107.72,454.84 L108.31,455.88 L108.85,457.08 L109.34,458.46 L109.77,460.03 L110.15,461.82 L110.49,463.90 L110.78,466.43 Z" fill="#000" fill-opacity="0.360" stroke="#000" stroke-opacity="0.55" stroke-width="0.65"/>
<path d="M110.19,470.93 L110.44,474.89 L110.49,477.19 L110.43,479.08 L110.27,480.70 L110.01,482.12 L109.65,483.37 L109.19,484.46 L108.63,485.40 L107.96,486.19 L107.18,486.83 L106.27,487.33 L105.20,487.69 L103.88,487.91 L101.60,487.98 L99.32,487.91 L98.00,487.69 L96.93,487.33 L96.02,486.83 L95.24,486.19 L94.57,485.40 L94.01,484.46 L93.55,483.37 L93.19,482.12 L92.93,480.70 L92.77,479.08 L92.71,477.19 L92.76,474.89 L93.01,470.93 L93.33,466.97 L93.59,464.67 L93.89,462.79 L94.24,461.16 L94.63,459.74 L95.07,458.49 L95.55,457.41 L96.09,456.47 L96.68,455.68 L97.33,455.03 L98.06,454.53 L98.89,454.17 L99.89,453.96 L101.60,453.89 L103.31,453.96 L104.31,454.17 L105.14,454.53 L105.87,455.03 L106.52,455.68 L107.11,456.47 L107.65,457.41 L108.13,458.49 L108.57,459.74 L108.96,461.16 L109.31,462.79 L109.61,464.67 L109.87,466.97 Z" fill="#000" fill-opacity="0.080" stroke="#000" stroke-opacity="0.55" stroke-width="0.65"/>
<path d="M109.25,471.07 L109.47,474.62 L109.52,476.68 L109.46,478.37 L109.32,479.83 L109.09,481.11 L108.77,482.22 L108.36,483.20 L107.86,484.04 L107.27,484.75 L106.57,485.33 L105.76,485.78 L104.80,486.10 L103.63,486.29 L101.60,486.36 L99.57,486.29 L98.40,486.10 L97.44,485.78 L96.63,485.33 L95.93,484.75 L95.34,484.04 L94.84,483.20 L94.43,482.22 L94.11,481.11 L93.88,479.83 L93.74,478.37 L93.68,476.68 L93.73,474.62 L93.95,471.07 L94.23,467.52 L94.47,465.45 L94.74,463.76 L95.05,462.30 L95.39,461.03 L95.78,459.91 L96.22,458.93 L96.69,458.09 L97.22,457.38 L97.80,456.80 L98.45,456.36 L99.18,456.03 L100.08,455.84 L101.60,455.78 L103.12,455.84 L104.02,456.03 L104.75,456.36 L105.40,456.80 L105.98,457.38 L106.51,458.09 L106.98,458.93 L107.42,459.91 L107.81,461.03 L108.15,462.30 L108.46,463.76 L108.73,465.45 L108.97,467.52 Z" fill="#000" fill-opacity="0.080" stroke="#000" stroke-opacity="0.55" stroke-width="0.65"/>
<path d="M108.31,471.20 L108.50,474.34 L108.54,476.17 L108.50,477.67 L108.37,478.96 L108.17,480.09 L107.89,481.08 L107.53,481.94 L107.09,482.69 L106.57,483.31 L105.96,483.82 L105.25,484.22 L104.41,484.51 L103.38,484.68 L101.60,484.73 L99.82,484.68 L98.79,484.51 L97.95,484.22 L97.24,483.82 L96.63,483.31 L96.11,482.69 L95.67,481.94 L95.31,481.08 L95.03,480.09 L94.83,478.96 L94.70,477.67 L94.66,476.17 L94.70,474.34 L94.89,471.20 L95.14,468.06 L95.35,466.23 L95.59,464.73 L95.85,463.44 L96.16,462.31 L96.50,461.32 L96.88,460.46 L97.30,459.71 L97.76,459.09 L98.27,458.58 L98.84,458.18 L99.48,457.89 L100.26,457.72 L101.60,457.67 L102.94,457.72 L103.72,457.89 L104.36,458.18 L104.93,458.58 L105.44,459.09 L105.90,459.71 L106.32,460.46 L106.70,461.32 L107.04,462.31 L107.35,463.44 L107.61,464.73 L107.85,466.23 L108.06,468.06 Z" fill="#000" fill-opacity="0.080" stroke="#000" stroke-opacity="0.55" stroke-width="0.65"/>
<path d="M107.37,471.33 L107.53,474.07 L107.57,475.66 L107.53,476.96 L107.42,478.08 L107.24,479.07 L107.00,479.93 L106.69,480.68 L106.32,481.33 L105.87,481.87 L105.34,482.32 L104.73,482.67 L104.01,482.91 L103.13,483.06 L101.60,483.11 L100.07,483.06 L99.19,482.91 L98.47,482.67 L97.86,482.32 L97.33,481.87 L96.88,481.33 L96.51,480.68 L96.20,479.93 L95.96,479.07 L95.78,478.08 L95.67,476.96 L95.63,475.66 L95.67,474.07 L95.83,471.33 L96.05,468.60 L96.23,467.01 L96.43,465.71 L96.66,464.58 L96.92,463.60 L97.22,462.74 L97.54,461.99 L97.90,461.34 L98.30,460.79 L98.74,460.35 L99.22,460.00 L99.78,459.75 L100.45,459.60 L101.60,459.56 L102.75,459.60 L103.42,459.75 L103.98,460.00 L104.46,460.35 L104.90,460.79 L105.30,461.34 L105.66,461.99 L105.98,462.74 L106.28,463.60 L106.54,464.58 L106.77,465.71 L106.97,467.01 L107.15,468.60 Z" fill="#000" fill-opacity="0.080" stroke="#000" stroke-opacity="0.55" stroke-width="0.65"/>
<path d="M106.42,471.47 L106.56,473.79 L106.59,475.15 L106.56,476.26 L106.47,477.21 L106.32,478.05 L106.12,478.78 L105.86,479.42 L105.55,479.97 L105.17,480.44 L104.73,480.82 L104.22,481.11 L103.62,481.32 L102.88,481.45 L101.60,481.49 L100.32,481.45 L99.58,481.32 L98.98,481.11 L98.47,480.82 L98.03,480.44 L97.65,479.97 L97.34,479.42 L97.08,478.78 L96.88,478.05 L96.73,477.21 L96.64,476.26 L96.61,475.15 L96.64,473.79 L96.78,471.47 L96.96,469.14 L97.11,467.79 L97.28,466.68 L97.47,465.72 L97.69,464.89 L97.93,464.15 L98.21,463.51 L98.51,462.96 L98.84,462.50 L99.20,462.12 L99.61,461.82 L100.08,461.61 L100.64,461.49 L101.60,461.44 L102.56,461.49 L103.12,461.61 L103.59,461.82 L104.00,462.12 L104.36,462.50 L104.69,462.96 L104.99,463.51 L105.27,464.15 L105.51,464.89 L105.73,465.72 L105.92,466.68 L106.09,467.79 L106.24,469.14 Z" fill="#000" fill-opacity="0.080" stroke="#000" stroke-opacity="0.55" stroke-width="0.65"/>
<path d="M105.48,471.60 L105.59,473.52 L105.61,474.64 L105.59,475.55 L105.51,476.34 L105.40,477.03 L105.24,477.63 L105.03,478.16 L104.77,478.62 L104.47,479.00 L104.12,479.31 L103.71,479.55 L103.22,479.73 L102.63,479.83 L101.60,479.87 L100.57,479.83 L99.98,479.73 L99.49,479.55 L99.08,479.31 L98.73,479.00 L98.43,478.62 L98.17,478.16 L97.96,477.63 L97.80,477.03 L97.69,476.34 L97.61,475.55 L97.59,474.64 L97.61,473.52 L97.72,471.60 L97.87,469.68 L97.99,468.56 L98.12,467.65 L98.28,466.86 L98.45,466.17 L98.65,465.57 L98.87,465.04 L99.11,464.58 L99.38,464.20 L99.67,463.89 L100.00,463.65 L100.38,463.47 L100.83,463.37 L101.60,463.33 L102.37,463.37 L102.82,463.47 L103.20,463.65 L103.53,463.89 L103.82,464.20 L104.09,464.58 L104.33,465.04 L104.55,465.57 L104.75,466.17 L104.92,466.86 L105.08,467.65 L105.21,468.56 L105.33,469.68 Z" fill="#000" fill-opacity="0.080" stroke="#000" stroke-opacity="0.55" stroke-width="0.65"/>
<path d="M104.54,471.73 L104.62,473.25 L104.64,474.12 L104.62,474.84 L104.56,475.47 L104.47,476.01 L104.35,476.49 L104.19,476.90 L104.00,477.26 L103.77,477.56 L103.51,477.81 L103.20,478.00 L102.83,478.14 L102.38,478.22 L101.60,478.24 L100.82,478.22 L100.37,478.14 L100.00,478.00 L99.69,477.81 L99.43,477.56 L99.20,477.26 L99.01,476.90 L98.85,476.49 L98.73,476.01 L98.64,475.47 L98.58,474.84 L98.56,474.12 L98.58,473.25 L98.66,471.73 L98.77,470.22 L98.86,469.34 L98.97,468.62 L99.09,468.00 L99.22,467.46 L99.37,466.98 L99.53,466.57 L99.72,466.21 L99.92,465.91 L100.14,465.66 L100.39,465.47 L100.67,465.33 L101.01,465.25 L101.60,465.22 L102.19,465.25 L102.53,465.33 L102.81,465.47 L103.06,465.66 L103.28,465.91 L103.48,466.21 L103.67,466.57 L103.83,466.98 L103.98,467.46 L104.11,468.00 L104.23,468.62 L104.34,469.34 L104.43,470.22 Z" fill="#000" fill-opacity="0.080" stroke="#000" stroke-opacity="0.55" stroke-width="0.65"/>
<path d="M103.59,471.87 L103.65,472.97 L103.66,473.61 L103.65,474.14 L103.61,474.59 L103.55,474.99 L103.47,475.34 L103.36,475.64 L103.23,475.90 L103.08,476.12 L102.89,476.30 L102.68,476.44 L102.43,476.54 L102.13,476.60 L101.60,476.62 L101.07,476.60 L100.77,476.54 L100.52,476.44 L100.31,476.30 L100.12,476.12 L99.97,475.90 L99.84,475.64 L99.73,475.34 L99.65,474.99 L99.59,474.59 L99.55,474.14 L99.54,473.61 L99.55,472.97 L99.61,471.87 L99.68,470.76 L99.74,470.12 L99.81,469.59 L99.89,469.14 L99.98,468.74 L100.08,468.40 L100.20,468.09 L100.32,467.83 L100.46,467.61 L100.61,467.43 L100.78,467.29 L100.97,467.19 L101.20,467.13 L101.60,467.11 L102.00,467.13 L102.23,467.19 L102.42,467.29 L102.59,467.43 L102.74,467.61 L102.88,467.83 L103.00,468.09 L103.12,468.40 L103.22,468.74 L103.31,469.14 L103.39,469.59 L103.46,470.12 L103.52,470.76 Z" fill="#000" fill-opacity="0.080" stroke="#000" stroke-opacity="0.55" stroke-width="0.65"/>
<path d="M102.65,472.00 L102.68,472.70 L102.69,473.10 L102.68,473.43 L102.66,473.72 L102.63,473.97 L102.58,474.19 L102.53,474.38 L102.46,474.55 L102.38,474.69 L102.28,474.80 L102.17,474.89 L102.04,474.95 L101.88,474.99 L101.60,475.00 L101.32,474.99 L101.16,474.95 L101.03,474.89 L100.92,474.80 L100.82,474.69 L100.74,474.55 L100.67,474.38 L100.62,474.19 L100.57,473.97 L100.54,473.72 L100.52,473.43 L100.51,473.10 L100.52,472.70 L100.55,472.00 L100.59,471.30 L100.62,470.90 L100.66,470.57 L100.70,470.28 L100.75,470.03 L100.80,469.81 L100.86,469.62 L100.93,469.45 L101.00,469.31 L101.08,469.20 L101.17,469.11 L101.27,469.05 L101.39,469.01 L101.60,469.00 L101.81,469.01 L101.93,469.05 L102.03,469.11 L102.12,469.20 L102.20,469.31 L102.27,469.45 L102.34,469.62 L102.40,469.81 L102.45,470.03 L102.50,470.28 L102.54,470.57 L102.58,470.90 L102.61,471.30 Z" fill="#000" fill-opacity="0.080" stroke="#000" stroke-opacity="0.55" stroke-width="0.65"/>
</g>
<g>
<path d="M165.00,445.50 C167.83,445.83 170.50,447.25 172.00,450.00 C173.50,452.75 173.83,457.33 174.00,462.00 C174.17,466.67 174.33,473.75 173.00,478.00 C171.67,482.25 168.50,485.67 166.00,487.50 C163.50,489.33 161.00,489.25 158.00,489.00 C155.00,488.75 151.33,487.75 148.00,486.00 C144.67,484.25 140.30,480.92 138.00,478.50 C135.70,476.08 134.37,473.75 134.20,471.50 C134.03,469.25 135.20,467.58 137.00,465.00 C138.80,462.42 142.00,458.83 145.00,456.00 C148.00,453.17 151.67,449.75 155.00,448.00 C158.33,446.25 162.17,445.17 165.00,445.50 Z" fill="#000" fill-opacity="0.080" stroke="#000" stroke-opacity="0.45" stroke-width="0.5"/>
<path d="M164.87,446.93 C167.51,447.24 170.00,448.57 171.40,451.13 C172.80,453.70 173.11,457.98 173.27,462.33 C173.42,466.69 173.58,473.30 172.33,477.27 C171.09,481.23 168.13,484.42 165.80,486.13 C163.47,487.84 161.13,487.77 158.33,487.53 C155.53,487.30 152.11,486.37 149.00,484.73 C145.89,483.10 141.81,479.99 139.67,477.73 C137.52,475.48 136.28,473.30 136.12,471.20 C135.96,469.10 137.05,467.54 138.73,465.13 C140.41,462.72 143.40,459.38 146.20,456.73 C149.00,454.09 152.42,450.90 155.53,449.27 C158.64,447.63 162.22,446.62 164.87,446.93 Z" fill="#000" fill-opacity="0.030" stroke="#000" stroke-opacity="0.45" stroke-width="0.5"/>
<path d="M164.73,448.37 C167.19,448.66 169.50,449.88 170.80,452.27 C172.10,454.65 172.39,458.62 172.53,462.67 C172.68,466.71 172.82,472.85 171.67,476.53 C170.51,480.22 167.77,483.18 165.60,484.77 C163.43,486.36 161.27,486.28 158.67,486.07 C156.07,485.85 152.89,484.98 150.00,483.47 C147.11,481.95 143.33,479.06 141.33,476.97 C139.34,474.87 138.18,472.85 138.04,470.90 C137.90,468.95 138.91,467.51 140.47,465.27 C142.03,463.03 144.80,459.92 147.40,457.47 C150.00,455.01 153.18,452.05 156.07,450.53 C158.96,449.02 162.28,448.08 164.73,448.37 Z" fill="#000" fill-opacity="0.030" stroke="#000" stroke-opacity="0.45" stroke-width="0.5"/>
<path d="M164.60,449.80 C166.87,450.07 169.00,451.20 170.20,453.40 C171.40,455.60 171.67,459.27 171.80,463.00 C171.93,466.73 172.07,472.40 171.00,475.80 C169.93,479.20 167.40,481.93 165.40,483.40 C163.40,484.87 161.40,484.80 159.00,484.60 C156.60,484.40 153.67,483.60 151.00,482.20 C148.33,480.80 144.84,478.13 143.00,476.20 C141.16,474.27 140.09,472.40 139.96,470.60 C139.83,468.80 140.76,467.47 142.20,465.40 C143.64,463.33 146.20,460.47 148.60,458.20 C151.00,455.93 153.93,453.20 156.60,451.80 C159.27,450.40 162.33,449.53 164.60,449.80 Z" fill="#000" fill-opacity="0.030" stroke="#000" stroke-opacity="0.45" stroke-width="0.5"/>
<path d="M164.47,451.23 C166.54,451.48 168.50,452.52 169.60,454.53 C170.70,456.55 170.94,459.91 171.07,463.33 C171.19,466.76 171.31,471.95 170.33,475.07 C169.36,478.18 167.03,480.69 165.20,482.03 C163.37,483.38 161.53,483.32 159.33,483.13 C157.13,482.95 154.44,482.22 152.00,480.93 C149.56,479.65 146.35,477.21 144.67,475.43 C142.98,473.66 142.00,471.95 141.88,470.30 C141.76,468.65 142.61,467.43 143.93,465.53 C145.25,463.64 147.60,461.01 149.80,458.93 C152.00,456.86 154.69,454.35 157.13,453.07 C159.58,451.78 162.39,450.99 164.47,451.23 Z" fill="#000" fill-opacity="0.030" stroke="#000" stroke-opacity="0.45" stroke-width="0.5"/>
<path d="M164.33,452.67 C166.22,452.89 168.00,453.83 169.00,455.67 C170.00,457.50 170.22,460.56 170.33,463.67 C170.44,466.78 170.56,471.50 169.67,474.33 C168.78,477.17 166.67,479.44 165.00,480.67 C163.33,481.89 161.67,481.83 159.67,481.67 C157.67,481.50 155.22,480.83 153.00,479.67 C150.78,478.50 147.87,476.28 146.33,474.67 C144.80,473.06 143.91,471.50 143.80,470.00 C143.69,468.50 144.47,467.39 145.67,465.67 C146.87,463.94 149.00,461.56 151.00,459.67 C153.00,457.78 155.44,455.50 157.67,454.33 C159.89,453.17 162.44,452.44 164.33,452.67 Z" fill="#000" fill-opacity="0.030" stroke="#000" stroke-opacity="0.45" stroke-width="0.5"/>
<path d="M164.20,454.10 C165.90,454.30 167.50,455.15 168.40,456.80 C169.30,458.45 169.50,461.20 169.60,464.00 C169.70,466.80 169.80,471.05 169.00,473.60 C168.20,476.15 166.30,478.20 164.80,479.30 C163.30,480.40 161.80,480.35 160.00,480.20 C158.20,480.05 156.00,479.45 154.00,478.40 C152.00,477.35 149.38,475.35 148.00,473.90 C146.62,472.45 145.82,471.05 145.72,469.70 C145.62,468.35 146.32,467.35 147.40,465.80 C148.48,464.25 150.40,462.10 152.20,460.40 C154.00,458.70 156.20,456.65 158.20,455.60 C160.20,454.55 162.50,453.90 164.20,454.10 Z" fill="#000" fill-opacity="0.030" stroke="#000" stroke-opacity="0.45" stroke-width="0.5"/>
</g>
<g>
<path d="M172.31,466.80 L172.42,471.68 L172.38,474.51 L172.22,476.83 L171.95,478.84 L171.58,480.59 L171.10,482.13 L170.51,483.47 L169.82,484.62 L169.00,485.60 L168.06,486.39 L166.98,487.01 L165.72,487.45 L164.17,487.71 L161.50,487.80 L158.83,487.71 L157.28,487.45 L156.02,487.01 L154.94,486.39 L154.00,485.60 L153.18,484.62 L152.49,483.47 L151.90,482.13 L151.42,480.59 L151.05,478.84 L150.78,476.83 L150.62,474.51 L150.58,471.68 L150.69,466.80 L150.89,461.92 L151.12,459.09 L151.42,456.77 L151.78,454.76 L152.23,453.01 L152.75,451.47 L153.35,450.13 L154.04,448.98 L154.81,448.00 L155.67,447.21 L156.65,446.59 L157.78,446.15 L159.15,445.89 L161.50,445.80 L163.85,445.89 L165.22,446.15 L166.35,446.59 L167.33,447.21 L168.19,448.00 L168.96,448.98 L169.65,450.13 L170.25,451.47 L170.77,453.01 L171.22,454.76 L171.58,456.77 L171.88,459.09 L172.11,461.92 Z" fill="#000" fill-opacity="0.300" stroke="#000" stroke-opacity="0.6" stroke-width="0.7"/>
<path d="M171.32,466.82 L171.42,471.26 L171.38,473.84 L171.24,475.95 L171.00,477.78 L170.66,479.37 L170.23,480.77 L169.70,481.99 L169.07,483.04 L168.33,483.93 L167.49,484.65 L166.51,485.21 L165.37,485.61 L163.97,485.85 L161.56,485.93 L159.14,485.85 L157.74,485.61 L156.60,485.21 L155.63,484.65 L154.78,483.93 L154.04,483.04 L153.41,481.99 L152.88,480.77 L152.45,479.37 L152.11,477.78 L151.87,475.95 L151.73,473.84 L151.69,471.26 L151.79,466.82 L151.98,462.38 L152.18,459.80 L152.45,457.69 L152.78,455.87 L153.18,454.27 L153.65,452.87 L154.20,451.65 L154.81,450.60 L155.51,449.72 L156.29,448.99 L157.18,448.43 L158.19,448.03 L159.43,447.79 L161.56,447.71 L163.68,447.79 L164.92,448.03 L165.94,448.43 L166.82,448.99 L167.60,449.72 L168.30,450.60 L168.91,451.65 L169.46,452.87 L169.93,454.27 L170.33,455.87 L170.67,457.69 L170.93,459.80 L171.14,462.38 Z" fill="#000" fill-opacity="0.100" stroke="#000" stroke-opacity="0.6" stroke-width="0.7"/>
<path d="M170.33,466.84 L170.42,470.85 L170.39,473.17 L170.26,475.07 L170.04,476.71 L169.74,478.15 L169.36,479.41 L168.88,480.51 L168.32,481.46 L167.66,482.26 L166.91,482.91 L166.03,483.42 L165.01,483.78 L163.77,483.99 L161.61,484.07 L159.46,483.99 L158.21,483.78 L157.19,483.42 L156.32,482.91 L155.56,482.26 L154.90,481.46 L154.34,480.51 L153.86,479.41 L153.48,478.15 L153.18,476.71 L152.96,475.07 L152.84,473.17 L152.80,470.85 L152.89,466.84 L153.06,462.84 L153.24,460.52 L153.48,458.62 L153.77,456.97 L154.13,455.54 L154.55,454.28 L155.04,453.18 L155.59,452.23 L156.21,451.43 L156.91,450.78 L157.70,450.27 L158.61,449.91 L159.71,449.69 L161.61,449.62 L163.51,449.69 L164.61,449.91 L165.52,450.27 L166.31,450.78 L167.01,451.43 L167.63,452.23 L168.18,453.18 L168.67,454.28 L169.09,455.54 L169.45,456.97 L169.75,458.62 L169.98,460.52 L170.17,462.84 Z" fill="#000" fill-opacity="0.100" stroke="#000" stroke-opacity="0.6" stroke-width="0.7"/>
<path d="M169.34,466.87 L169.42,470.43 L169.39,472.50 L169.28,474.19 L169.09,475.65 L168.83,476.93 L168.49,478.06 L168.07,479.04 L167.57,479.88 L167.00,480.59 L166.33,481.17 L165.56,481.62 L164.66,481.94 L163.56,482.14 L161.67,482.20 L159.77,482.14 L158.67,481.94 L157.77,481.62 L157.01,481.17 L156.34,480.59 L155.76,479.88 L155.27,479.04 L154.85,478.06 L154.51,476.93 L154.24,475.65 L154.05,474.19 L153.94,472.50 L153.91,470.43 L153.99,466.87 L154.14,463.30 L154.30,461.24 L154.51,459.54 L154.77,458.08 L155.08,456.80 L155.46,455.68 L155.88,454.70 L156.37,453.85 L156.91,453.14 L157.53,452.56 L158.22,452.11 L159.02,451.79 L160.00,451.60 L161.67,451.53 L163.34,451.60 L164.31,451.79 L165.11,452.11 L165.80,452.56 L166.42,453.14 L166.97,453.85 L167.45,454.70 L167.88,455.68 L168.25,456.80 L168.57,458.08 L168.83,459.54 L169.04,461.24 L169.20,463.30 Z" fill="#000" fill-opacity="0.100" stroke="#000" stroke-opacity="0.6" stroke-width="0.7"/>
<path d="M168.35,466.89 L168.42,470.01 L168.40,471.83 L168.30,473.31 L168.14,474.59 L167.91,475.72 L167.61,476.70 L167.25,477.56 L166.82,478.30 L166.33,478.92 L165.75,479.43 L165.09,479.83 L164.31,480.11 L163.36,480.28 L161.72,480.33 L160.08,480.28 L159.13,480.11 L158.36,479.83 L157.69,479.43 L157.12,478.92 L156.62,478.30 L156.19,477.56 L155.83,476.70 L155.54,475.72 L155.31,474.59 L155.15,473.31 L155.05,471.83 L155.02,470.01 L155.09,466.89 L155.22,463.77 L155.35,461.95 L155.54,460.47 L155.76,459.18 L156.04,458.06 L156.36,457.08 L156.72,456.22 L157.14,455.48 L157.62,454.86 L158.15,454.35 L158.75,453.95 L159.44,453.67 L160.28,453.50 L161.72,453.44 L163.16,453.50 L164.00,453.67 L164.70,453.95 L165.30,454.35 L165.83,454.86 L166.30,455.48 L166.72,456.22 L167.09,457.08 L167.41,458.06 L167.68,459.18 L167.91,460.47 L168.09,461.95 L168.23,463.77 Z" fill="#000" fill-opacity="0.100" stroke="#000" stroke-opacity="0.6" stroke-width="0.7"/>
<path d="M167.37,466.91 L167.42,469.60 L167.40,471.15 L167.32,472.43 L167.18,473.53 L166.99,474.50 L166.74,475.34 L166.44,476.08 L166.08,476.72 L165.66,477.25 L165.17,477.69 L164.61,478.03 L163.96,478.27 L163.16,478.42 L161.78,478.47 L160.40,478.42 L159.60,478.27 L158.94,478.03 L158.38,477.69 L157.90,477.25 L157.48,476.72 L157.12,476.08 L156.81,475.34 L156.57,474.50 L156.37,473.53 L156.24,472.43 L156.16,471.15 L156.13,469.60 L156.19,466.91 L156.30,464.23 L156.41,462.67 L156.57,461.39 L156.76,460.29 L156.99,459.32 L157.26,458.48 L157.57,457.74 L157.92,457.10 L158.32,456.57 L158.77,456.13 L159.27,455.79 L159.85,455.55 L160.56,455.40 L161.78,455.36 L162.99,455.40 L163.70,455.55 L164.28,455.79 L164.79,456.13 L165.24,456.57 L165.63,457.10 L165.99,457.74 L166.30,458.48 L166.57,459.32 L166.80,460.29 L166.99,461.39 L167.14,462.67 L167.26,464.23 Z" fill="#000" fill-opacity="0.100" stroke="#000" stroke-opacity="0.6" stroke-width="0.7"/>
<path d="M166.38,466.93 L166.42,469.18 L166.41,470.48 L166.34,471.55 L166.23,472.47 L166.07,473.28 L165.87,473.99 L165.62,474.61 L165.33,475.14 L164.99,475.59 L164.59,475.95 L164.14,476.23 L163.61,476.44 L162.96,476.56 L161.83,476.60 L160.71,476.56 L160.06,476.44 L159.53,476.23 L159.07,475.95 L158.68,475.59 L158.34,475.14 L158.04,474.61 L157.80,473.99 L157.60,473.28 L157.44,472.47 L157.33,471.55 L157.26,470.48 L157.24,469.18 L157.29,466.93 L157.38,464.69 L157.47,463.38 L157.59,462.31 L157.75,461.39 L157.94,460.59 L158.16,459.88 L158.41,459.26 L158.70,458.73 L159.02,458.28 L159.38,457.92 L159.80,457.63 L160.27,457.43 L160.84,457.31 L161.83,457.27 L162.82,457.31 L163.40,457.43 L163.87,457.63 L164.28,457.92 L164.65,458.28 L164.97,458.73 L165.26,459.26 L165.51,459.88 L165.73,460.59 L165.92,461.39 L166.07,462.31 L166.20,463.38 L166.29,464.69 Z" fill="#000" fill-opacity="0.100" stroke="#000" stroke-opacity="0.6" stroke-width="0.7"/>
<path d="M165.39,466.96 L165.42,468.76 L165.41,469.81 L165.36,470.67 L165.27,471.41 L165.15,472.06 L165.00,472.63 L164.81,473.13 L164.58,473.56 L164.32,473.92 L164.01,474.21 L163.66,474.44 L163.25,474.60 L162.75,474.70 L161.89,474.73 L161.02,474.70 L160.52,474.60 L160.11,474.44 L159.76,474.21 L159.46,473.92 L159.20,473.56 L158.97,473.13 L158.78,472.63 L158.63,472.06 L158.51,471.41 L158.42,470.67 L158.37,469.81 L158.35,468.76 L158.39,466.96 L158.46,465.15 L158.53,464.10 L158.62,463.24 L158.74,462.50 L158.89,461.85 L159.06,461.28 L159.25,460.78 L159.47,460.35 L159.72,459.99 L160.00,459.70 L160.32,459.47 L160.68,459.31 L161.13,459.21 L161.89,459.18 L162.65,459.21 L163.09,459.31 L163.46,459.47 L163.77,459.70 L164.05,459.99 L164.30,460.35 L164.53,460.78 L164.72,461.28 L164.89,461.85 L165.03,462.50 L165.15,463.24 L165.25,464.10 L165.32,465.15 Z" fill="#000" fill-opacity="0.100" stroke="#000" stroke-opacity="0.6" stroke-width="0.7"/>
<path d="M164.40,466.98 L164.42,468.35 L164.41,469.14 L164.38,469.79 L164.32,470.35 L164.23,470.84 L164.12,471.28 L163.99,471.65 L163.83,471.98 L163.65,472.25 L163.43,472.47 L163.19,472.64 L162.90,472.77 L162.55,472.84 L161.94,472.87 L161.34,472.84 L160.99,472.77 L160.70,472.64 L160.45,472.47 L160.24,472.25 L160.06,471.98 L159.90,471.65 L159.76,471.28 L159.66,470.84 L159.57,470.35 L159.51,469.79 L159.47,469.14 L159.46,468.35 L159.49,466.98 L159.54,465.61 L159.59,464.82 L159.65,464.16 L159.74,463.60 L159.84,463.11 L159.96,462.68 L160.10,462.30 L160.25,461.98 L160.42,461.71 L160.62,461.48 L160.84,461.31 L161.10,461.19 L161.41,461.11 L161.94,461.09 L162.48,461.11 L162.79,461.19 L163.05,461.31 L163.27,461.48 L163.46,461.71 L163.64,461.98 L163.79,462.30 L163.93,462.68 L164.05,463.11 L164.15,463.60 L164.23,464.16 L164.30,464.82 L164.35,465.61 Z" fill="#000" fill-opacity="0.100" stroke="#000" stroke-opacity="0.6" stroke-width="0.7"/>
<path d="M163.41,467.00 L163.42,467.93 L163.42,468.47 L163.40,468.91 L163.36,469.29 L163.31,469.63 L163.25,469.92 L163.18,470.17 L163.08,470.39 L162.98,470.58 L162.86,470.73 L162.72,470.85 L162.55,470.93 L162.35,470.98 L162.00,471.00 L161.65,470.98 L161.45,470.93 L161.28,470.85 L161.14,470.73 L161.02,470.58 L160.92,470.39 L160.82,470.17 L160.75,469.92 L160.69,469.63 L160.64,469.29 L160.60,468.91 L160.58,468.47 L160.58,467.93 L160.59,467.00 L160.62,466.07 L160.65,465.53 L160.68,465.09 L160.73,464.71 L160.79,464.37 L160.86,464.08 L160.94,463.83 L161.03,463.61 L161.13,463.42 L161.24,463.27 L161.37,463.15 L161.51,463.07 L161.69,463.02 L162.00,463.00 L162.31,463.02 L162.49,463.07 L162.63,463.15 L162.76,463.27 L162.87,463.42 L162.97,463.61 L163.06,463.83 L163.14,464.08 L163.21,464.37 L163.27,464.71 L163.32,465.09 L163.35,465.53 L163.38,466.07 Z" fill="#000" fill-opacity="0.100" stroke="#000" stroke-opacity="0.6" stroke-width="0.7"/>
</g>
<text x="182.8" y="577.5" font-size="9.8" text-anchor="end" fill="#1a1a1a" stroke="#1a1a1a" stroke-width="0.28" textLength="45" lengthAdjust="spacingAndGlyphs">CD3<tspan font-size="6" dy="-3.5">+</tspan><tspan dy="3.5"> cells</tspan></text>
<rect x="83.8" y="600.4" width="38.7" height="72.6" fill="none" stroke="#7d1035" stroke-width="1.9"/>
<text x="102.4" y="611.2" font-size="9.4" text-anchor="middle" fill="#333" font-weight="normal" stroke="#333" stroke-width="0.28" textLength="21.5" lengthAdjust="spacingAndGlyphs" >1.7%</text>
<circle cx="101.8" cy="648.3" r="2.3" fill="none" stroke="#444" stroke-width="0.8"/>
<g>
<path d="M165.00,620.20 C167.33,620.03 169.33,620.37 171.00,622.00 C172.67,623.63 174.18,626.67 175.00,630.00 C175.82,633.33 175.98,637.83 175.90,642.00 C175.82,646.17 175.65,651.67 174.50,655.00 C173.35,658.33 171.25,660.52 169.00,662.00 C166.75,663.48 163.67,664.23 161.00,663.90 C158.33,663.57 155.00,662.32 153.00,660.00 C151.00,657.68 149.80,653.33 149.00,650.00 C148.20,646.67 147.87,643.33 148.20,640.00 C148.53,636.67 149.53,632.83 151.00,630.00 C152.47,627.17 154.67,624.63 157.00,623.00 C159.33,621.37 162.67,620.37 165.00,620.20 Z" fill="#000" fill-opacity="0.025" stroke="#000" stroke-opacity="0.6" stroke-width="0.55"/>
<path d="M165.00,621.50 C167.19,621.34 169.06,621.66 170.62,623.19 C172.19,624.72 173.61,627.56 174.38,630.69 C175.14,633.81 175.30,638.03 175.22,641.94 C175.14,645.84 174.98,651.00 173.91,654.12 C172.83,657.25 170.86,659.30 168.75,660.69 C166.64,662.08 163.75,662.78 161.25,662.47 C158.75,662.16 155.62,660.98 153.75,658.81 C151.88,656.64 150.75,652.56 150.00,649.44 C149.25,646.31 148.94,643.19 149.25,640.06 C149.56,636.94 150.50,633.34 151.88,630.69 C153.25,628.03 155.31,625.66 157.50,624.12 C159.69,622.59 162.81,621.66 165.00,621.50 Z" fill="#000" fill-opacity="0.025" stroke="#000" stroke-opacity="0.6" stroke-width="0.55"/>
<path d="M165.00,622.80 C167.04,622.65 168.79,622.95 170.25,624.38 C171.71,625.80 173.04,628.46 173.75,631.38 C174.46,634.29 174.61,638.23 174.54,641.88 C174.46,645.52 174.32,650.33 173.31,653.25 C172.31,656.17 170.47,658.08 168.50,659.38 C166.53,660.67 163.83,661.33 161.50,661.04 C159.17,660.75 156.25,659.65 154.50,657.62 C152.75,655.60 151.70,651.79 151.00,648.88 C150.30,645.96 150.01,643.04 150.30,640.12 C150.59,637.21 151.47,633.85 152.75,631.38 C154.03,628.90 155.96,626.68 158.00,625.25 C160.04,623.82 162.96,622.95 165.00,622.80 Z" fill="#000" fill-opacity="0.025" stroke="#000" stroke-opacity="0.6" stroke-width="0.55"/>
<path d="M165.00,624.10 C166.90,623.96 168.52,624.24 169.88,625.56 C171.23,626.89 172.46,629.35 173.12,632.06 C173.79,634.77 173.92,638.43 173.86,641.81 C173.79,645.20 173.65,649.67 172.72,652.38 C171.78,655.08 170.08,656.86 168.25,658.06 C166.42,659.27 163.92,659.88 161.75,659.61 C159.58,659.34 156.88,658.32 155.25,656.44 C153.62,654.56 152.65,651.02 152.00,648.31 C151.35,645.60 151.08,642.90 151.35,640.19 C151.62,637.48 152.43,634.36 153.62,632.06 C154.82,629.76 156.60,627.70 158.50,626.38 C160.40,625.05 163.10,624.24 165.00,624.10 Z" fill="#000" fill-opacity="0.025" stroke="#000" stroke-opacity="0.6" stroke-width="0.55"/>
<path d="M165.00,625.40 C166.75,625.28 168.25,625.52 169.50,626.75 C170.75,627.98 171.89,630.25 172.50,632.75 C173.11,635.25 173.24,638.62 173.18,641.75 C173.11,644.88 172.99,649.00 172.12,651.50 C171.26,654.00 169.69,655.64 168.00,656.75 C166.31,657.86 164.00,658.42 162.00,658.17 C160.00,657.92 157.50,656.99 156.00,655.25 C154.50,653.51 153.60,650.25 153.00,647.75 C152.40,645.25 152.15,642.75 152.40,640.25 C152.65,637.75 153.40,634.88 154.50,632.75 C155.60,630.62 157.25,628.73 159.00,627.50 C160.75,626.27 163.25,625.53 165.00,625.40 Z" fill="#000" fill-opacity="0.025" stroke="#000" stroke-opacity="0.6" stroke-width="0.55"/>
</g>
<g>
<path d="M173.14,641.90 L173.21,645.97 L173.16,648.33 L173.02,650.26 L172.80,651.93 L172.49,653.39 L172.10,654.67 L171.63,655.79 L171.06,656.75 L170.41,657.56 L169.66,658.22 L168.79,658.74 L167.78,659.11 L166.54,659.33 L164.40,659.40 L162.26,659.33 L161.02,659.11 L160.01,658.74 L159.14,658.22 L158.39,657.56 L157.74,656.75 L157.17,655.79 L156.70,654.67 L156.31,653.39 L156.00,651.93 L155.78,650.26 L155.64,648.33 L155.59,645.97 L155.66,641.90 L155.80,637.83 L155.97,635.47 L156.20,633.54 L156.49,631.87 L156.85,630.41 L157.27,629.13 L157.75,628.01 L158.31,627.05 L158.93,626.24 L159.64,625.58 L160.44,625.06 L161.36,624.69 L162.48,624.47 L164.40,624.40 L166.32,624.47 L167.44,624.69 L168.36,625.06 L169.16,625.58 L169.87,626.24 L170.49,627.05 L171.05,628.01 L171.53,629.13 L171.95,630.41 L172.31,631.87 L172.60,633.54 L172.83,635.47 L173.00,637.83 Z" fill="#000" fill-opacity="0.310" stroke="#000" stroke-opacity="0.6" stroke-width="0.7"/>
<path d="M172.22,641.91 L172.28,645.56 L172.23,647.67 L172.11,649.41 L171.91,650.90 L171.64,652.21 L171.29,653.36 L170.87,654.36 L170.36,655.23 L169.78,655.95 L169.11,656.55 L168.34,657.01 L167.43,657.34 L166.33,657.53 L164.43,657.60 L162.52,657.53 L161.42,657.34 L160.51,657.01 L159.74,656.55 L159.07,655.95 L158.49,655.23 L157.98,654.36 L157.56,653.36 L157.21,652.21 L156.94,650.90 L156.74,649.41 L156.62,647.67 L156.57,645.56 L156.63,641.91 L156.76,638.27 L156.91,636.15 L157.12,634.42 L157.38,632.92 L157.69,631.61 L158.07,630.46 L158.50,629.46 L158.99,628.60 L159.55,627.87 L160.18,627.28 L160.89,626.82 L161.71,626.49 L162.71,626.29 L164.42,626.23 L166.14,626.29 L167.14,626.49 L167.96,626.82 L168.67,627.28 L169.30,627.87 L169.86,628.60 L170.35,629.46 L170.78,630.46 L171.16,631.61 L171.47,632.92 L171.73,634.42 L171.94,636.15 L172.09,638.27 Z" fill="#000" fill-opacity="0.110" stroke="#000" stroke-opacity="0.6" stroke-width="0.7"/>
<path d="M171.29,641.92 L171.34,645.15 L171.31,647.02 L171.20,648.55 L171.02,649.88 L170.78,651.04 L170.48,652.05 L170.11,652.94 L169.66,653.70 L169.15,654.34 L168.56,654.87 L167.88,655.28 L167.09,655.57 L166.12,655.74 L164.45,655.80 L162.78,655.74 L161.81,655.57 L161.02,655.28 L160.34,654.87 L159.75,654.34 L159.24,653.70 L158.79,652.94 L158.42,652.05 L158.12,651.04 L157.88,649.88 L157.70,648.55 L157.59,647.02 L157.56,645.15 L157.61,641.93 L157.72,638.70 L157.85,636.83 L158.03,635.30 L158.26,633.97 L158.54,632.81 L158.87,631.80 L159.25,630.91 L159.68,630.15 L160.17,629.51 L160.72,628.98 L161.35,628.57 L162.07,628.28 L162.94,628.11 L164.45,628.05 L165.96,628.11 L166.83,628.28 L167.55,628.57 L168.18,628.98 L168.73,629.51 L169.22,630.15 L169.65,630.91 L170.03,631.80 L170.36,632.81 L170.64,633.97 L170.87,635.30 L171.05,636.83 L171.18,638.70 Z" fill="#000" fill-opacity="0.110" stroke="#000" stroke-opacity="0.6" stroke-width="0.7"/>
<path d="M170.36,641.94 L170.41,644.74 L170.38,646.37 L170.29,647.70 L170.14,648.85 L169.93,649.86 L169.67,650.74 L169.35,651.51 L168.97,652.17 L168.52,652.73 L168.02,653.19 L167.43,653.54 L166.75,653.80 L165.91,653.95 L164.48,654.00 L163.04,653.95 L162.20,653.80 L161.52,653.54 L160.93,653.19 L160.43,652.73 L159.98,652.17 L159.60,651.51 L159.28,650.74 L159.02,649.86 L158.81,648.85 L158.66,647.70 L158.57,646.37 L158.54,644.74 L158.58,641.94 L158.68,639.14 L158.80,637.51 L158.95,636.17 L159.15,635.02 L159.39,634.02 L159.67,633.13 L160.00,632.36 L160.37,631.70 L160.79,631.14 L161.27,630.69 L161.80,630.33 L162.42,630.08 L163.18,629.93 L164.47,629.88 L165.77,629.93 L166.53,630.08 L167.15,630.33 L167.68,630.69 L168.16,631.14 L168.58,631.70 L168.95,632.36 L169.28,633.13 L169.56,634.02 L169.80,635.02 L170.00,636.17 L170.15,637.51 L170.27,639.14 Z" fill="#000" fill-opacity="0.110" stroke="#000" stroke-opacity="0.6" stroke-width="0.7"/>
<path d="M169.44,641.95 L169.48,644.33 L169.45,645.71 L169.37,646.85 L169.25,647.82 L169.07,648.68 L168.85,649.43 L168.58,650.09 L168.27,650.65 L167.90,651.12 L167.47,651.51 L166.98,651.81 L166.41,652.03 L165.71,652.16 L164.50,652.20 L163.29,652.16 L162.59,652.03 L162.02,651.81 L161.53,651.51 L161.10,651.12 L160.73,650.65 L160.42,650.09 L160.15,649.43 L159.93,648.68 L159.75,647.82 L159.63,646.85 L159.55,645.71 L159.52,644.33 L159.56,641.95 L159.64,639.57 L159.74,638.19 L159.87,637.05 L160.03,636.08 L160.23,635.22 L160.47,634.47 L160.74,633.81 L161.06,633.25 L161.41,632.78 L161.81,632.39 L162.26,632.09 L162.78,631.87 L163.41,631.74 L164.50,631.70 L165.59,631.74 L166.22,631.87 L166.74,632.09 L167.19,632.39 L167.59,632.78 L167.94,633.25 L168.26,633.81 L168.53,634.47 L168.77,635.22 L168.97,636.08 L169.13,637.05 L169.26,638.19 L169.36,639.57 Z" fill="#000" fill-opacity="0.110" stroke="#000" stroke-opacity="0.6" stroke-width="0.7"/>
<path d="M168.52,641.96 L168.55,643.92 L168.52,645.06 L168.46,645.99 L168.36,646.80 L168.22,647.50 L168.04,648.12 L167.82,648.66 L167.57,649.12 L167.27,649.51 L166.92,649.83 L166.53,650.08 L166.07,650.26 L165.50,650.36 L164.53,650.40 L163.55,650.36 L162.98,650.26 L162.52,650.08 L162.13,649.83 L161.78,649.51 L161.48,649.12 L161.23,648.66 L161.01,648.12 L160.83,647.50 L160.69,646.80 L160.59,645.99 L160.53,645.06 L160.50,643.92 L160.53,641.96 L160.60,640.00 L160.68,638.86 L160.78,637.93 L160.92,637.13 L161.08,636.42 L161.27,635.80 L161.49,635.27 L161.74,634.80 L162.03,634.41 L162.35,634.09 L162.72,633.84 L163.14,633.67 L163.65,633.56 L164.52,633.52 L165.40,633.56 L165.91,633.67 L166.33,633.84 L166.70,634.09 L167.02,634.41 L167.31,634.80 L167.56,635.27 L167.78,635.80 L167.97,636.42 L168.13,637.13 L168.27,637.93 L168.37,638.86 L168.45,640.00 Z" fill="#000" fill-opacity="0.110" stroke="#000" stroke-opacity="0.6" stroke-width="0.7"/>
<path d="M167.59,641.98 L167.61,643.51 L167.60,644.41 L167.55,645.14 L167.47,645.77 L167.36,646.32 L167.23,646.81 L167.06,647.23 L166.87,647.60 L166.64,647.90 L166.38,648.16 L166.08,648.35 L165.72,648.49 L165.29,648.57 L164.55,648.60 L163.81,648.57 L163.38,648.49 L163.02,648.35 L162.72,648.16 L162.46,647.90 L162.23,647.60 L162.04,647.23 L161.87,646.81 L161.74,646.32 L161.63,645.77 L161.55,645.14 L161.50,644.41 L161.49,643.51 L161.51,641.98 L161.56,640.44 L161.62,639.54 L161.70,638.81 L161.80,638.18 L161.92,637.63 L162.07,637.14 L162.24,636.72 L162.43,636.35 L162.65,636.05 L162.89,635.79 L163.17,635.60 L163.49,635.46 L163.88,635.38 L164.55,635.35 L165.22,635.38 L165.61,635.46 L165.93,635.60 L166.21,635.79 L166.45,636.05 L166.67,636.35 L166.86,636.72 L167.03,637.14 L167.18,637.63 L167.30,638.18 L167.40,638.81 L167.48,639.54 L167.54,640.44 Z" fill="#000" fill-opacity="0.110" stroke="#000" stroke-opacity="0.6" stroke-width="0.7"/>
<path d="M166.66,641.99 L166.68,643.11 L166.67,643.75 L166.64,644.29 L166.58,644.75 L166.51,645.15 L166.42,645.50 L166.30,645.81 L166.17,646.07 L166.01,646.29 L165.83,646.48 L165.62,646.62 L165.38,646.72 L165.09,646.78 L164.58,646.80 L164.06,646.78 L163.77,646.72 L163.53,646.62 L163.32,646.48 L163.14,646.29 L162.98,646.07 L162.85,645.81 L162.73,645.50 L162.64,645.15 L162.57,644.75 L162.51,644.29 L162.48,643.75 L162.47,643.11 L162.48,641.99 L162.52,640.87 L162.56,640.22 L162.61,639.69 L162.68,639.23 L162.77,638.83 L162.87,638.48 L162.99,638.17 L163.12,637.90 L163.27,637.68 L163.44,637.50 L163.63,637.36 L163.85,637.26 L164.11,637.20 L164.57,637.17 L165.04,637.20 L165.30,637.26 L165.52,637.36 L165.71,637.50 L165.88,637.68 L166.03,637.90 L166.16,638.17 L166.28,638.48 L166.38,638.83 L166.47,639.23 L166.54,639.69 L166.59,640.22 L166.63,640.87 Z" fill="#000" fill-opacity="0.110" stroke="#000" stroke-opacity="0.6" stroke-width="0.7"/>
<path d="M165.74,642.00 L165.75,642.70 L165.74,643.10 L165.72,643.43 L165.70,643.72 L165.66,643.97 L165.60,644.19 L165.54,644.38 L165.47,644.55 L165.38,644.69 L165.29,644.80 L165.17,644.89 L165.04,644.95 L164.88,644.99 L164.60,645.00 L164.32,644.99 L164.16,644.95 L164.03,644.89 L163.91,644.80 L163.82,644.69 L163.73,644.55 L163.66,644.38 L163.60,644.19 L163.54,643.97 L163.50,643.72 L163.48,643.43 L163.46,643.10 L163.45,642.70 L163.46,642.00 L163.48,641.30 L163.50,640.90 L163.53,640.57 L163.57,640.28 L163.61,640.03 L163.67,639.81 L163.73,639.62 L163.81,639.45 L163.89,639.31 L163.98,639.20 L164.08,639.11 L164.20,639.05 L164.35,639.01 L164.60,639.00 L164.85,639.01 L165.00,639.05 L165.12,639.11 L165.22,639.20 L165.31,639.31 L165.39,639.45 L165.47,639.62 L165.53,639.81 L165.59,640.03 L165.63,640.28 L165.67,640.57 L165.70,640.90 L165.72,641.30 Z" fill="#000" fill-opacity="0.110" stroke="#000" stroke-opacity="0.6" stroke-width="0.7"/>
</g>
<rect x="293.50" y="37.7" width="10" height="114.30" fill="#a8002c"/>
<rect x="308.05" y="37.8" width="10" height="114.20" fill="#a8002c"/>
<rect x="322.60" y="39.2" width="10" height="112.80" fill="#a8002c"/>
<rect x="337.15" y="39.2" width="10" height="112.80" fill="#a8002c"/>
<rect x="351.70" y="39.7" width="10" height="112.30" fill="#a8002c"/>
<rect x="366.25" y="41.8" width="10" height="110.20" fill="#a8002c"/>
<rect x="380.80" y="53.8" width="10" height="98.20" fill="#a8002c"/>
<rect x="395.35" y="54.5" width="10" height="97.50" fill="#a8002c"/>
<rect x="409.90" y="63.5" width="10" height="88.50" fill="#a8002c"/>
<rect x="424.45" y="79.6" width="10" height="72.40" fill="#a8002c"/>
<rect x="439.00" y="96.5" width="10" height="55.50" fill="#a8002c"/>
<rect x="453.55" y="98.4" width="10" height="53.60" fill="#a8002c"/>
<rect x="468.10" y="100.7" width="10" height="51.30" fill="#a8002c"/>
<rect x="482.65" y="125.4" width="10" height="26.60" fill="#a8002c"/>
<rect x="497.20" y="131.6" width="10" height="20.40" fill="#a8002c"/>
<path d="M291.2,32.3V152.0 M286.59999999999997,152.0H509.5" stroke="#000" stroke-width="1.6" fill="none"/>
<path d="M286.59999999999997,152.00H291.2 M286.59999999999997,128.86H291.2 M286.59999999999997,105.72H291.2 M286.59999999999997,82.58H291.2 M286.59999999999997,59.44H291.2 M286.59999999999997,36.30H291.2 M298.50,152.0V156.3 M313.05,152.0V156.3 M327.60,152.0V156.3 M342.15,152.0V156.3 M356.70,152.0V156.3 M371.25,152.0V156.3 M385.80,152.0V156.3 M400.35,152.0V156.3 M414.90,152.0V156.3 M429.45,152.0V156.3 M444.00,152.0V156.3 M458.55,152.0V156.3 M473.10,152.0V156.3 M487.65,152.0V156.3 M502.20,152.0V156.3" stroke="#000" stroke-width="1.3" fill="none"/>
<text x="281.4" y="155.9" font-size="10.8" text-anchor="end" fill="#1a1a1a" font-weight="normal" stroke="#1a1a1a" stroke-width="0.28" >0</text>
<text x="281.4" y="132.76" font-size="10.8" text-anchor="end" fill="#1a1a1a" font-weight="normal" stroke="#1a1a1a" stroke-width="0.28" >20</text>
<text x="281.4" y="109.62" font-size="10.8" text-anchor="end" fill="#1a1a1a" font-weight="normal" stroke="#1a1a1a" stroke-width="0.28" >40</text>
<text x="281.4" y="86.48" font-size="10.8" text-anchor="end" fill="#1a1a1a" font-weight="normal" stroke="#1a1a1a" stroke-width="0.28" >60</text>
<text x="281.4" y="63.34" font-size="10.8" text-anchor="end" fill="#1a1a1a" font-weight="normal" stroke="#1a1a1a" stroke-width="0.28" >80</text>
<text x="281.4" y="40.2" font-size="10.8" text-anchor="end" fill="#1a1a1a" font-weight="normal" stroke="#1a1a1a" stroke-width="0.28" >100</text>
<text x="298.5" y="169.8" font-size="10.8" text-anchor="middle" fill="#1a1a1a" font-weight="normal" stroke="#1a1a1a" stroke-width="0.28" >1</text>
<text x="313.05" y="169.8" font-size="10.8" text-anchor="middle" fill="#1a1a1a" font-weight="normal" stroke="#1a1a1a" stroke-width="0.28" >2</text>
<text x="327.6" y="169.8" font-size="10.8" text-anchor="middle" fill="#1a1a1a" font-weight="normal" stroke="#1a1a1a" stroke-width="0.28" >3</text>
<text x="342.15" y="169.8" font-size="10.8" text-anchor="middle" fill="#1a1a1a" font-weight="normal" stroke="#1a1a1a" stroke-width="0.28" >4</text>
<text x="356.7" y="169.8" font-size="10.8" text-anchor="middle" fill="#7d9ab6" font-weight="normal" stroke="#7d9ab6" stroke-width="0.28" >5</text>
<text x="371.25" y="169.8" font-size="10.8" text-anchor="middle" fill="#1a1a1a" font-weight="normal" stroke="#1a1a1a" stroke-width="0.28" >6</text>
<text x="385.8" y="169.8" font-size="10.8" text-anchor="middle" fill="#1a1a1a" font-weight="normal" stroke="#1a1a1a" stroke-width="0.28" >7</text>
<text x="400.35" y="169.8" font-size="10.8" text-anchor="middle" fill="#1a1a1a" font-weight="normal" stroke="#1a1a1a" stroke-width="0.28" >8</text>
<text x="414.9" y="169.8" font-size="10.8" text-anchor="middle" fill="#1a1a1a" font-weight="normal" stroke="#1a1a1a" stroke-width="0.28" >9</text>
<text x="429.45" y="169.8" font-size="10.8" text-anchor="middle" fill="#7d9ab6" font-weight="normal" stroke="#7d9ab6" stroke-width="0.28" >10</text>
<text x="444.0" y="169.8" font-size="10.8" text-anchor="middle" fill="#1a1a1a" font-weight="normal" stroke="#1a1a1a" stroke-width="0.28" >11</text>
<text x="458.55" y="169.8" font-size="10.8" text-anchor="middle" fill="#7d9ab6" font-weight="normal" stroke="#7d9ab6" stroke-width="0.28" >12</text>
<text x="473.1" y="169.8" font-size="10.8" text-anchor="middle" fill="#1a1a1a" font-weight="normal" stroke="#1a1a1a" stroke-width="0.28" >13</text>
<text x="487.65" y="169.8" font-size="10.8" text-anchor="middle" fill="#7d9ab6" font-weight="normal" stroke="#7d9ab6" stroke-width="0.28" >14</text>
<text x="502.2" y="169.8" font-size="10.8" text-anchor="middle" fill="#1a1a1a" font-weight="normal" stroke="#1a1a1a" stroke-width="0.28" >15</text>
<text transform="translate(253.8,94.15) rotate(-90)" x="0" y="0" font-size="13.2" text-anchor="middle" fill="#1a1a1a" stroke="#1a1a1a" stroke-width="0.15" textLength="96.5" lengthAdjust="spacingAndGlyphs">FLAER<tspan font-size="9" dy="-5">−</tspan><tspan dy="5"> cells (%)</tspan></text>
<rect x="293.50" y="218.8" width="10" height="108.90" fill="#a8002c"/>
<rect x="308.05" y="249.0" width="10" height="78.70" fill="#a8002c"/>
<rect x="322.60" y="218.6" width="10" height="109.10" fill="#a8002c"/>
<rect x="337.15" y="253.6" width="10" height="74.10" fill="#a8002c"/>
<rect x="351.70" y="217.2" width="10" height="110.50" fill="#a8002c"/>
<rect x="366.25" y="246.0" width="10" height="81.70" fill="#a8002c"/>
<rect x="380.80" y="324.0" width="10" height="3.70" fill="#a8002c"/>
<rect x="395.35" y="262.5" width="10" height="65.20" fill="#a8002c"/>
<rect x="409.90" y="247.9" width="10" height="79.80" fill="#a8002c"/>
<rect x="424.45" y="313.9" width="10" height="13.80" fill="#a8002c"/>
<rect x="439.00" y="323.0" width="10" height="4.70" fill="#a8002c"/>
<rect x="453.55" y="322.2" width="10" height="5.50" fill="#a8002c"/>
<rect x="468.10" y="318.5" width="10" height="9.20" fill="#a8002c"/>
<rect x="482.65" y="322.5" width="10" height="5.20" fill="#a8002c"/>
<rect x="497.20" y="323.6" width="10" height="4.10" fill="#a8002c"/>
<path d="M291.2,208.6V327.7 M286.59999999999997,327.7H509.5" stroke="#000" stroke-width="1.6" fill="none"/>
<path d="M286.59999999999997,327.70H291.2 M286.59999999999997,304.68H291.2 M286.59999999999997,281.66H291.2 M286.59999999999997,258.64H291.2 M286.59999999999997,235.62H291.2 M286.59999999999997,212.60H291.2 M298.50,327.7V332.0 M313.05,327.7V332.0 M327.60,327.7V332.0 M342.15,327.7V332.0 M356.70,327.7V332.0 M371.25,327.7V332.0 M385.80,327.7V332.0 M400.35,327.7V332.0 M414.90,327.7V332.0 M429.45,327.7V332.0 M444.00,327.7V332.0 M458.55,327.7V332.0 M473.10,327.7V332.0 M487.65,327.7V332.0 M502.20,327.7V332.0" stroke="#000" stroke-width="1.3" fill="none"/>
<text x="281.4" y="331.6" font-size="10.8" text-anchor="end" fill="#1a1a1a" font-weight="normal" stroke="#1a1a1a" stroke-width="0.28" >0</text>
<text x="281.4" y="308.58" font-size="10.8" text-anchor="end" fill="#1a1a1a" font-weight="normal" stroke="#1a1a1a" stroke-width="0.28" >20</text>
<text x="281.4" y="285.56" font-size="10.8" text-anchor="end" fill="#1a1a1a" font-weight="normal" stroke="#1a1a1a" stroke-width="0.28" >40</text>
<text x="281.4" y="262.54" font-size="10.8" text-anchor="end" fill="#1a1a1a" font-weight="normal" stroke="#1a1a1a" stroke-width="0.28" >60</text>
<text x="281.4" y="239.52" font-size="10.8" text-anchor="end" fill="#1a1a1a" font-weight="normal" stroke="#1a1a1a" stroke-width="0.28" >80</text>
<text x="281.4" y="216.5" font-size="10.8" text-anchor="end" fill="#1a1a1a" font-weight="normal" stroke="#1a1a1a" stroke-width="0.28" >100</text>
<text x="298.5" y="345.5" font-size="10.8" text-anchor="middle" fill="#1a1a1a" font-weight="normal" stroke="#1a1a1a" stroke-width="0.28" >1</text>
<text x="313.05" y="345.5" font-size="10.8" text-anchor="middle" fill="#1a1a1a" font-weight="normal" stroke="#1a1a1a" stroke-width="0.28" >2</text>
<text x="327.6" y="345.5" font-size="10.8" text-anchor="middle" fill="#1a1a1a" font-weight="normal" stroke="#1a1a1a" stroke-width="0.28" >3</text>
<text x="342.15" y="345.5" font-size="10.8" text-anchor="middle" fill="#1a1a1a" font-weight="normal" stroke="#1a1a1a" stroke-width="0.28" >4</text>
<text x="356.7" y="345.5" font-size="10.8" text-anchor="middle" fill="#7d9ab6" font-weight="normal" stroke="#7d9ab6" stroke-width="0.28" >5</text>
<text x="371.25" y="345.5" font-size="10.8" text-anchor="middle" fill="#1a1a1a" font-weight="normal" stroke="#1a1a1a" stroke-width="0.28" >6</text>
<text x="385.8" y="345.5" font-size="10.8" text-anchor="middle" fill="#1a1a1a" font-weight="normal" stroke="#1a1a1a" stroke-width="0.28" >7</text>
<text x="400.35" y="345.5" font-size="10.8" text-anchor="middle" fill="#1a1a1a" font-weight="normal" stroke="#1a1a1a" stroke-width="0.28" >8</text>
<text x="414.9" y="345.5" font-size="10.8" text-anchor="middle" fill="#1a1a1a" font-weight="normal" stroke="#1a1a1a" stroke-width="0.28" >9</text>
<text x="429.45" y="345.5" font-size="10.8" text-anchor="middle" fill="#7d9ab6" font-weight="normal" stroke="#7d9ab6" stroke-width="0.28" >10</text>
<text x="444.0" y="345.5" font-size="10.8" text-anchor="middle" fill="#1a1a1a" font-weight="normal" stroke="#1a1a1a" stroke-width="0.28" >11</text>
<text x="458.55" y="345.5" font-size="10.8" text-anchor="middle" fill="#7d9ab6" font-weight="normal" stroke="#7d9ab6" stroke-width="0.28" >12</text>
<text x="473.1" y="345.5" font-size="10.8" text-anchor="middle" fill="#1a1a1a" font-weight="normal" stroke="#1a1a1a" stroke-width="0.28" >13</text>
<text x="487.65" y="345.5" font-size="10.8" text-anchor="middle" fill="#7d9ab6" font-weight="normal" stroke="#7d9ab6" stroke-width="0.28" >14</text>
<text x="502.2" y="345.5" font-size="10.8" text-anchor="middle" fill="#1a1a1a" font-weight="normal" stroke="#1a1a1a" stroke-width="0.28" >15</text>
<text transform="translate(253.8,270.15) rotate(-90)" x="0" y="0" font-size="13.2" text-anchor="middle" fill="#1a1a1a" stroke="#1a1a1a" stroke-width="0.15" textLength="96.5" lengthAdjust="spacingAndGlyphs">FLAER<tspan font-size="9" dy="-5">−</tspan><tspan dy="5"> cells (%)</tspan></text>
<rect x="293.50" y="417.7" width="10" height="86.00" fill="#a8002c"/>
<rect x="308.05" y="500.6" width="10" height="3.10" fill="#a8002c"/>
<rect x="322.60" y="452.9" width="10" height="50.80" fill="#a8002c"/>
<rect x="337.15" y="494.4" width="10" height="9.30" fill="#a8002c"/>
<rect x="351.70" y="415.2" width="10" height="88.50" fill="#a8002c"/>
<rect x="366.25" y="480.4" width="10" height="23.30" fill="#a8002c"/>
<rect x="380.80" y="501.1" width="10" height="2.60" fill="#a8002c"/>
<rect x="395.35" y="472.9" width="10" height="30.80" fill="#a8002c"/>
<rect x="409.90" y="500.0" width="10" height="3.70" fill="#a8002c"/>
<rect x="424.45" y="492.8" width="10" height="10.90" fill="#a8002c"/>
<rect x="439.00" y="501.4" width="10" height="2.30" fill="#a8002c"/>
<rect x="453.55" y="499.5" width="10" height="4.20" fill="#a8002c"/>
<rect x="468.10" y="497.6" width="10" height="6.10" fill="#a8002c"/>
<rect x="482.65" y="500.0" width="10" height="3.70" fill="#a8002c"/>
<rect x="497.20" y="501.7" width="10" height="2.00" fill="#a8002c"/>
<path d="M291.2,384.8V503.7 M286.59999999999997,503.7H509.5" stroke="#000" stroke-width="1.6" fill="none"/>
<path d="M286.59999999999997,503.70H291.2 M286.59999999999997,480.72H291.2 M286.59999999999997,457.74H291.2 M286.59999999999997,434.76H291.2 M286.59999999999997,411.78H291.2 M286.59999999999997,388.80H291.2 M298.50,503.7V508.0 M313.05,503.7V508.0 M327.60,503.7V508.0 M342.15,503.7V508.0 M356.70,503.7V508.0 M371.25,503.7V508.0 M385.80,503.7V508.0 M400.35,503.7V508.0 M414.90,503.7V508.0 M429.45,503.7V508.0 M444.00,503.7V508.0 M458.55,503.7V508.0 M473.10,503.7V508.0 M487.65,503.7V508.0 M502.20,503.7V508.0" stroke="#000" stroke-width="1.3" fill="none"/>
<text x="281.4" y="507.6" font-size="10.8" text-anchor="end" fill="#1a1a1a" font-weight="normal" stroke="#1a1a1a" stroke-width="0.28" >0</text>
<text x="281.4" y="484.62" font-size="10.8" text-anchor="end" fill="#1a1a1a" font-weight="normal" stroke="#1a1a1a" stroke-width="0.28" >20</text>
<text x="281.4" y="461.64" font-size="10.8" text-anchor="end" fill="#1a1a1a" font-weight="normal" stroke="#1a1a1a" stroke-width="0.28" >40</text>
<text x="281.4" y="438.66" font-size="10.8" text-anchor="end" fill="#1a1a1a" font-weight="normal" stroke="#1a1a1a" stroke-width="0.28" >60</text>
<text x="281.4" y="415.68" font-size="10.8" text-anchor="end" fill="#1a1a1a" font-weight="normal" stroke="#1a1a1a" stroke-width="0.28" >80</text>
<text x="281.4" y="392.7" font-size="10.8" text-anchor="end" fill="#1a1a1a" font-weight="normal" stroke="#1a1a1a" stroke-width="0.28" >100</text>
<text x="298.5" y="521.5" font-size="10.8" text-anchor="middle" fill="#1a1a1a" font-weight="normal" stroke="#1a1a1a" stroke-width="0.28" >1</text>
<text x="313.05" y="521.5" font-size="10.8" text-anchor="middle" fill="#1a1a1a" font-weight="normal" stroke="#1a1a1a" stroke-width="0.28" >2</text>
<text x="327.6" y="521.5" font-size="10.8" text-anchor="middle" fill="#1a1a1a" font-weight="normal" stroke="#1a1a1a" stroke-width="0.28" >3</text>
<text x="342.15" y="521.5" font-size="10.8" text-anchor="middle" fill="#1a1a1a" font-weight="normal" stroke="#1a1a1a" stroke-width="0.28" >4</text>
<text x="356.7" y="521.5" font-size="10.8" text-anchor="middle" fill="#7d9ab6" font-weight="normal" stroke="#7d9ab6" stroke-width="0.28" >5</text>
<text x="371.25" y="521.5" font-size="10.8" text-anchor="middle" fill="#1a1a1a" font-weight="normal" stroke="#1a1a1a" stroke-width="0.28" >6</text>
<text x="385.8" y="521.5" font-size="10.8" text-anchor="middle" fill="#1a1a1a" font-weight="normal" stroke="#1a1a1a" stroke-width="0.28" >7</text>
<text x="400.35" y="521.5" font-size="10.8" text-anchor="middle" fill="#1a1a1a" font-weight="normal" stroke="#1a1a1a" stroke-width="0.28" >8</text>
<text x="414.9" y="521.5" font-size="10.8" text-anchor="middle" fill="#1a1a1a" font-weight="normal" stroke="#1a1a1a" stroke-width="0.28" >9</text>
<text x="429.45" y="521.5" font-size="10.8" text-anchor="middle" fill="#7d9ab6" font-weight="normal" stroke="#7d9ab6" stroke-width="0.28" >10</text>
<text x="444.0" y="521.5" font-size="10.8" text-anchor="middle" fill="#1a1a1a" font-weight="normal" stroke="#1a1a1a" stroke-width="0.28" >11</text>
<text x="458.55" y="521.5" font-size="10.8" text-anchor="middle" fill="#7d9ab6" font-weight="normal" stroke="#7d9ab6" stroke-width="0.28" >12</text>
<text x="473.1" y="521.5" font-size="10.8" text-anchor="middle" fill="#1a1a1a" font-weight="normal" stroke="#1a1a1a" stroke-width="0.28" >13</text>
<text x="487.65" y="521.5" font-size="10.8" text-anchor="middle" fill="#7d9ab6" font-weight="normal" stroke="#7d9ab6" stroke-width="0.28" >14</text>
<text x="502.2" y="521.5" font-size="10.8" text-anchor="middle" fill="#1a1a1a" font-weight="normal" stroke="#1a1a1a" stroke-width="0.28" >15</text>
<text transform="translate(253.8,446.25) rotate(-90)" x="0" y="0" font-size="13.2" text-anchor="middle" fill="#1a1a1a" stroke="#1a1a1a" stroke-width="0.15" textLength="96.5" lengthAdjust="spacingAndGlyphs">FLAER<tspan font-size="9" dy="-5">−</tspan><tspan dy="5"> cells (%)</tspan></text>
<rect x="293.50" y="657.2" width="10" height="22.50" fill="#a8002c"/>
<rect x="308.05" y="675.5" width="10" height="4.20" fill="#a8002c"/>
<rect x="322.60" y="677.6" width="10" height="2.10" fill="#a8002c"/>
<rect x="337.15" y="674.4" width="10" height="5.30" fill="#a8002c"/>
<rect x="351.70" y="649.1" width="10" height="30.60" fill="#a8002c"/>
<rect x="366.25" y="676.9" width="10" height="2.80" fill="#a8002c"/>
<rect x="395.35" y="674.9" width="10" height="4.80" fill="#a8002c"/>
<rect x="409.90" y="671.2" width="10" height="8.50" fill="#a8002c"/>
<rect x="424.45" y="678.5" width="10" height="1.20" fill="#a8002c"/>
<rect x="439.00" y="667.2" width="10" height="12.50" fill="#a8002c"/>
<rect x="468.10" y="678.9" width="10" height="0.80" fill="#a8002c"/>
<rect x="497.20" y="678.9" width="10" height="0.80" fill="#a8002c"/>
<path d="M291.2,560.8V679.7 M286.59999999999997,679.7H509.5" stroke="#000" stroke-width="1.6" fill="none"/>
<path d="M286.59999999999997,679.70H291.2 M286.59999999999997,656.72H291.2 M286.59999999999997,633.74H291.2 M286.59999999999997,610.76H291.2 M286.59999999999997,587.78H291.2 M286.59999999999997,564.80H291.2 M298.50,679.7V684.0 M313.05,679.7V684.0 M327.60,679.7V684.0 M342.15,679.7V684.0 M356.70,679.7V684.0 M371.25,679.7V684.0 M385.80,679.7V684.0 M400.35,679.7V684.0 M414.90,679.7V684.0 M429.45,679.7V684.0 M444.00,679.7V684.0 M458.55,679.7V684.0 M473.10,679.7V684.0 M487.65,679.7V684.0 M502.20,679.7V684.0" stroke="#000" stroke-width="1.3" fill="none"/>
<text x="281.4" y="683.6" font-size="10.8" text-anchor="end" fill="#1a1a1a" font-weight="normal" stroke="#1a1a1a" stroke-width="0.28" >0</text>
<text x="281.4" y="660.62" font-size="10.8" text-anchor="end" fill="#1a1a1a" font-weight="normal" stroke="#1a1a1a" stroke-width="0.28" >20</text>
<text x="281.4" y="637.64" font-size="10.8" text-anchor="end" fill="#1a1a1a" font-weight="normal" stroke="#1a1a1a" stroke-width="0.28" >40</text>
<text x="281.4" y="614.66" font-size="10.8" text-anchor="end" fill="#1a1a1a" font-weight="normal" stroke="#1a1a1a" stroke-width="0.28" >60</text>
<text x="281.4" y="591.68" font-size="10.8" text-anchor="end" fill="#1a1a1a" font-weight="normal" stroke="#1a1a1a" stroke-width="0.28" >80</text>
<text x="281.4" y="568.7" font-size="10.8" text-anchor="end" fill="#1a1a1a" font-weight="normal" stroke="#1a1a1a" stroke-width="0.28" >100</text>
<text x="298.5" y="697.5" font-size="10.8" text-anchor="middle" fill="#1a1a1a" font-weight="normal" stroke="#1a1a1a" stroke-width="0.28" >1</text>
<text x="313.05" y="697.5" font-size="10.8" text-anchor="middle" fill="#1a1a1a" font-weight="normal" stroke="#1a1a1a" stroke-width="0.28" >2</text>
<text x="327.6" y="697.5" font-size="10.8" text-anchor="middle" fill="#1a1a1a" font-weight="normal" stroke="#1a1a1a" stroke-width="0.28" >3</text>
<text x="342.15" y="697.5" font-size="10.8" text-anchor="middle" fill="#1a1a1a" font-weight="normal" stroke="#1a1a1a" stroke-width="0.28" >4</text>
<text x="356.7" y="697.5" font-size="10.8" text-anchor="middle" fill="#7d9ab6" font-weight="normal" stroke="#7d9ab6" stroke-width="0.28" >5</text>
<text x="371.25" y="697.5" font-size="10.8" text-anchor="middle" fill="#1a1a1a" font-weight="normal" stroke="#1a1a1a" stroke-width="0.28" >6</text>
<text x="385.8" y="697.5" font-size="10.8" text-anchor="middle" fill="#1a1a1a" font-weight="normal" stroke="#1a1a1a" stroke-width="0.28" >7</text>
<text x="400.35" y="697.5" font-size="10.8" text-anchor="middle" fill="#1a1a1a" font-weight="normal" stroke="#1a1a1a" stroke-width="0.28" >8</text>
<text x="414.9" y="697.5" font-size="10.8" text-anchor="middle" fill="#1a1a1a" font-weight="normal" stroke="#1a1a1a" stroke-width="0.28" >9</text>
<text x="429.45" y="697.5" font-size="10.8" text-anchor="middle" fill="#7d9ab6" font-weight="normal" stroke="#7d9ab6" stroke-width="0.28" >10</text>
<text x="444.0" y="697.5" font-size="10.8" text-anchor="middle" fill="#1a1a1a" font-weight="normal" stroke="#1a1a1a" stroke-width="0.28" >11</text>
<text x="458.55" y="697.5" font-size="10.8" text-anchor="middle" fill="#7d9ab6" font-weight="normal" stroke="#7d9ab6" stroke-width="0.28" >12</text>
<text x="473.1" y="697.5" font-size="10.8" text-anchor="middle" fill="#1a1a1a" font-weight="normal" stroke="#1a1a1a" stroke-width="0.28" >13</text>
<text x="487.65" y="697.5" font-size="10.8" text-anchor="middle" fill="#7d9ab6" font-weight="normal" stroke="#7d9ab6" stroke-width="0.28" >14</text>
<text x="502.2" y="697.5" font-size="10.8" text-anchor="middle" fill="#1a1a1a" font-weight="normal" stroke="#1a1a1a" stroke-width="0.28" >15</text>
<text transform="translate(253.8,622.25) rotate(-90)" x="0" y="0" font-size="13.2" text-anchor="middle" fill="#1a1a1a" stroke="#1a1a1a" stroke-width="0.15" textLength="96.5" lengthAdjust="spacingAndGlyphs">FLAER<tspan font-size="9" dy="-5">−</tspan><tspan dy="5"> cells (%)</tspan></text>
<text x="400.2" y="26.2" font-size="13.8" text-anchor="middle" fill="#1a1a1a" font-weight="normal" stroke="#1a1a1a" stroke-width="0.15" textLength="71.6" lengthAdjust="spacingAndGlyphs" >Neutrophils</text>
<text x="322.5" y="201" font-size="13.8" fill="#1a1a1a" stroke="#1a1a1a" stroke-width="0.15" textLength="155" lengthAdjust="spacingAndGlyphs">CD3<tspan font-size="9.5" dy="-5.5">−</tspan><tspan dy="5.5">CD56</tspan><tspan font-size="9.5" dy="-5.5">bright</tspan><tspan dy="5.5"> NK cells</tspan></text>
<text x="326.7" y="376.6" font-size="13.8" fill="#1a1a1a" stroke="#1a1a1a" stroke-width="0.15" textLength="146" lengthAdjust="spacingAndGlyphs">CD3<tspan font-size="9.5" dy="-5.5">−</tspan><tspan dy="5.5">CD56</tspan><tspan font-size="9.5" dy="-5.5">dim</tspan><tspan dy="5.5"> NK cells</tspan></text>
<text x="360" y="553" font-size="13.8" fill="#1a1a1a" stroke="#1a1a1a" stroke-width="0.15" textLength="80.4" lengthAdjust="spacingAndGlyphs">CD3<tspan font-size="9.5" dy="-5.5">+</tspan><tspan dy="5.5"> T cells</tspan></text>
<text x="281.8" y="715.6" font-size="12.4" text-anchor="end" fill="#1a1a1a" font-weight="normal" stroke="#1a1a1a" stroke-width="0.28" textLength="49.3" lengthAdjust="spacingAndGlyphs" >CMV IgG</text>
<text x="298.5" y="717.3" font-size="11" text-anchor="middle" fill="#1a1a1a" font-weight="normal" stroke="#1a1a1a" stroke-width="0.28" >+</text>
<text x="313.05" y="717.3" font-size="11" text-anchor="middle" fill="#1a1a1a" font-weight="normal" stroke="#1a1a1a" stroke-width="0.28" >+</text>
<text x="327.6" y="717.3" font-size="11" text-anchor="middle" fill="#1a1a1a" font-weight="normal" stroke="#1a1a1a" stroke-width="0.28" >+</text>
<text x="342.15" y="717.3" font-size="11" text-anchor="middle" fill="#1a1a1a" font-weight="normal" stroke="#1a1a1a" stroke-width="0.28" >+</text>
<text x="356.7" y="717.3" font-size="11" text-anchor="middle" fill="#1a1a1a" font-weight="normal" stroke="#1a1a1a" stroke-width="0.28" >−</text>
<text x="371.25" y="717.3" font-size="11" text-anchor="middle" fill="#1a1a1a" font-weight="normal" stroke="#1a1a1a" stroke-width="0.28" >+</text>
<text x="385.8" y="717.3" font-size="11" text-anchor="middle" fill="#1a1a1a" font-weight="normal" stroke="#1a1a1a" stroke-width="0.28" >+</text>
<text x="400.35" y="717.3" font-size="11" text-anchor="middle" fill="#1a1a1a" font-weight="normal" stroke="#1a1a1a" stroke-width="0.28" >+</text>
<text x="414.9" y="717.3" font-size="11" text-anchor="middle" fill="#1a1a1a" font-weight="normal" stroke="#1a1a1a" stroke-width="0.28" >+</text>
<text x="429.45" y="717.3" font-size="11" text-anchor="middle" fill="#1a1a1a" font-weight="normal" stroke="#1a1a1a" stroke-width="0.28" >−</text>
<text x="444.0" y="717.3" font-size="11" text-anchor="middle" fill="#1a1a1a" font-weight="normal" stroke="#1a1a1a" stroke-width="0.28" >+</text>
<text x="458.55" y="717.3" font-size="11" text-anchor="middle" fill="#1a1a1a" font-weight="normal" stroke="#1a1a1a" stroke-width="0.28" >−</text>
<text x="473.1" y="717.3" font-size="11" text-anchor="middle" fill="#1a1a1a" font-weight="normal" stroke="#1a1a1a" stroke-width="0.28" >+</text>
<text x="487.65" y="717.3" font-size="11" text-anchor="middle" fill="#1a1a1a" font-weight="normal" stroke="#1a1a1a" stroke-width="0.28" >−</text>
<text x="502.2" y="717.3" font-size="11" text-anchor="middle" fill="#1a1a1a" font-weight="normal" stroke="#1a1a1a" stroke-width="0.28" >+</text>
<path d="M69.0,749.3V868.5 M64.4,868.5H288.5" stroke="#000" stroke-width="1.6" fill="none"/>
<path d="M64.4,868.50H69.0 M64.4,845.36H69.0 M64.4,822.22H69.0 M64.4,799.08H69.0 M64.4,775.94H69.0 M64.4,752.80H69.0 M124.5,868.5V872.8 M233.6,868.5V872.8" stroke="#000" stroke-width="1.3" fill="none"/>
<text x="60.2" y="872.4" font-size="10.8" text-anchor="end" fill="#1a1a1a" font-weight="normal" stroke="#1a1a1a" stroke-width="0.28" >0</text>
<text x="60.2" y="849.26" font-size="10.8" text-anchor="end" fill="#1a1a1a" font-weight="normal" stroke="#1a1a1a" stroke-width="0.28" >10</text>
<text x="60.2" y="826.12" font-size="10.8" text-anchor="end" fill="#1a1a1a" font-weight="normal" stroke="#1a1a1a" stroke-width="0.28" >20</text>
<text x="60.2" y="802.98" font-size="10.8" text-anchor="end" fill="#1a1a1a" font-weight="normal" stroke="#1a1a1a" stroke-width="0.28" >30</text>
<text x="60.2" y="779.84" font-size="10.8" text-anchor="end" fill="#1a1a1a" font-weight="normal" stroke="#1a1a1a" stroke-width="0.28" >40</text>
<text x="60.2" y="756.7" font-size="10.8" text-anchor="end" fill="#1a1a1a" font-weight="normal" stroke="#1a1a1a" stroke-width="0.28" >50</text>
<text transform="translate(39.9,809.45) rotate(-90)" x="0" y="0" font-size="13.2" text-anchor="middle" fill="#1a1a1a" stroke="#1a1a1a" stroke-width="0.15" textLength="96.5" lengthAdjust="spacingAndGlyphs">FLAER<tspan font-size="9" dy="-5">−</tspan><tspan dy="5"> cells (%)</tspan></text>
<text x="125.2" y="889.9" font-size="12.6" text-anchor="middle" fill="#1a1a1a" font-weight="normal" stroke="#1a1a1a" stroke-width="0.28" textLength="26" lengthAdjust="spacingAndGlyphs" >14.5</text>
<text x="233.3" y="889.9" font-size="12.6" text-anchor="middle" fill="#1a1a1a" font-weight="normal" stroke="#1a1a1a" stroke-width="0.28" textLength="25.6" lengthAdjust="spacingAndGlyphs" >20.5</text>
<text x="179.1" y="911.5" font-size="14" text-anchor="middle" fill="#1a1a1a" font-weight="normal" stroke="#1a1a1a" stroke-width="0.15" textLength="124.6" lengthAdjust="spacingAndGlyphs" >Months postdiagnosis</text>
<line x1="124.4" y1="866.6" x2="233.6" y2="866.2" stroke="#820a2e" stroke-width="2"/>
<line x1="124.4" y1="864.0" x2="233.6" y2="864.2" stroke="#820a2e" stroke-width="2"/>
<line x1="124.4" y1="859.2" x2="233.6" y2="849.6" stroke="#820a2e" stroke-width="2"/>
<line x1="124.4" y1="827.6" x2="233.6" y2="764.5" stroke="#820a2e" stroke-width="2"/>
<polygon points="124.4,873.67 130.15,863.67 118.65,863.67" fill="#bb1040" stroke="#3c0012" stroke-width="1.2" stroke-linejoin="miter"/>
<polygon points="233.6,873.47 239.35,863.47 227.85,863.47" fill="#bb1040" stroke="#3c0012" stroke-width="1.2" stroke-linejoin="miter"/>
<polygon points="124.4,857.91 129.65,867.04 119.15,867.04" fill="#bb1040" stroke="#3c0012" stroke-width="1.2" stroke-linejoin="miter"/>
<polygon points="233.6,858.11 238.85,867.24 228.35,867.24" fill="#bb1040" stroke="#3c0012" stroke-width="1.2" stroke-linejoin="miter"/>
<rect x="119.60" y="854.40" width="9.6" height="9.6" fill="#bb1040" stroke="#3c0012" stroke-width="1.2"/>
<rect x="228.80" y="844.80" width="9.6" height="9.6" fill="#bb1040" stroke="#3c0012" stroke-width="1.2"/>
<circle cx="124.4" cy="827.60" r="4.9" fill="#bb1040" stroke="#3c0012" stroke-width="1.3"/>
<circle cx="233.6" cy="764.50" r="4.9" fill="#bb1040" stroke="#3c0012" stroke-width="1.3"/>
<line x1="323.59999999999997" y1="755.8" x2="339.59999999999997" y2="755.8" stroke="#820a2e" stroke-width="2"/>
<circle cx="331.4" cy="755.80" r="4.3" fill="#bb1040" stroke="#3c0012" stroke-width="1.3"/>
<line x1="323.59999999999997" y1="775.4" x2="339.59999999999997" y2="775.4" stroke="#820a2e" stroke-width="2"/>
<rect x="327.10" y="771.10" width="8.6" height="8.6" fill="#bb1040" stroke="#3c0012" stroke-width="1.2"/>
<line x1="323.59999999999997" y1="796.4" x2="339.59999999999997" y2="796.4" stroke="#820a2e" stroke-width="2"/>
<polygon points="331.4,790.89 336.15,799.15 326.65,799.15" fill="#bb1040" stroke="#3c0012" stroke-width="1.2" stroke-linejoin="miter"/>
<line x1="323.59999999999997" y1="816.6" x2="339.59999999999997" y2="816.6" stroke="#820a2e" stroke-width="2"/>
<polygon points="331.4,822.11 336.15,813.85 326.65,813.85" fill="#bb1040" stroke="#3c0012" stroke-width="1.2" stroke-linejoin="miter"/>
<text x="345.2" y="759.6" font-size="11" text-anchor="start" fill="#1a1a1a" font-weight="normal" stroke="#1a1a1a" stroke-width="0.28" textLength="56.4" lengthAdjust="spacingAndGlyphs" >Neutrophils</text>
<text x="345.2" y="779.3" font-size="11" fill="#1a1a1a" stroke="#1a1a1a" stroke-width="0.28" textLength="119.6" lengthAdjust="spacingAndGlyphs">CD3<tspan font-size="7.5" dy="-4">−</tspan><tspan dy="4">CD56</tspan><tspan font-size="7.5" dy="-4">bright</tspan><tspan dy="4"> NK cells</tspan></text>
<text x="345.2" y="800.3" font-size="11" fill="#1a1a1a" stroke="#1a1a1a" stroke-width="0.28" textLength="112.8" lengthAdjust="spacingAndGlyphs">CD3<tspan font-size="7.5" dy="-4">−</tspan><tspan dy="4">CD56</tspan><tspan font-size="7.5" dy="-4">dim</tspan><tspan dy="4"> NK cells</tspan></text>
<text x="345.2" y="820.5" font-size="11" fill="#1a1a1a" stroke="#1a1a1a" stroke-width="0.28" textLength="62" lengthAdjust="spacingAndGlyphs">CD3<tspan font-size="7.5" dy="-4">+</tspan><tspan dy="4"> T cells</tspan></text>
</svg>
</body></html>
